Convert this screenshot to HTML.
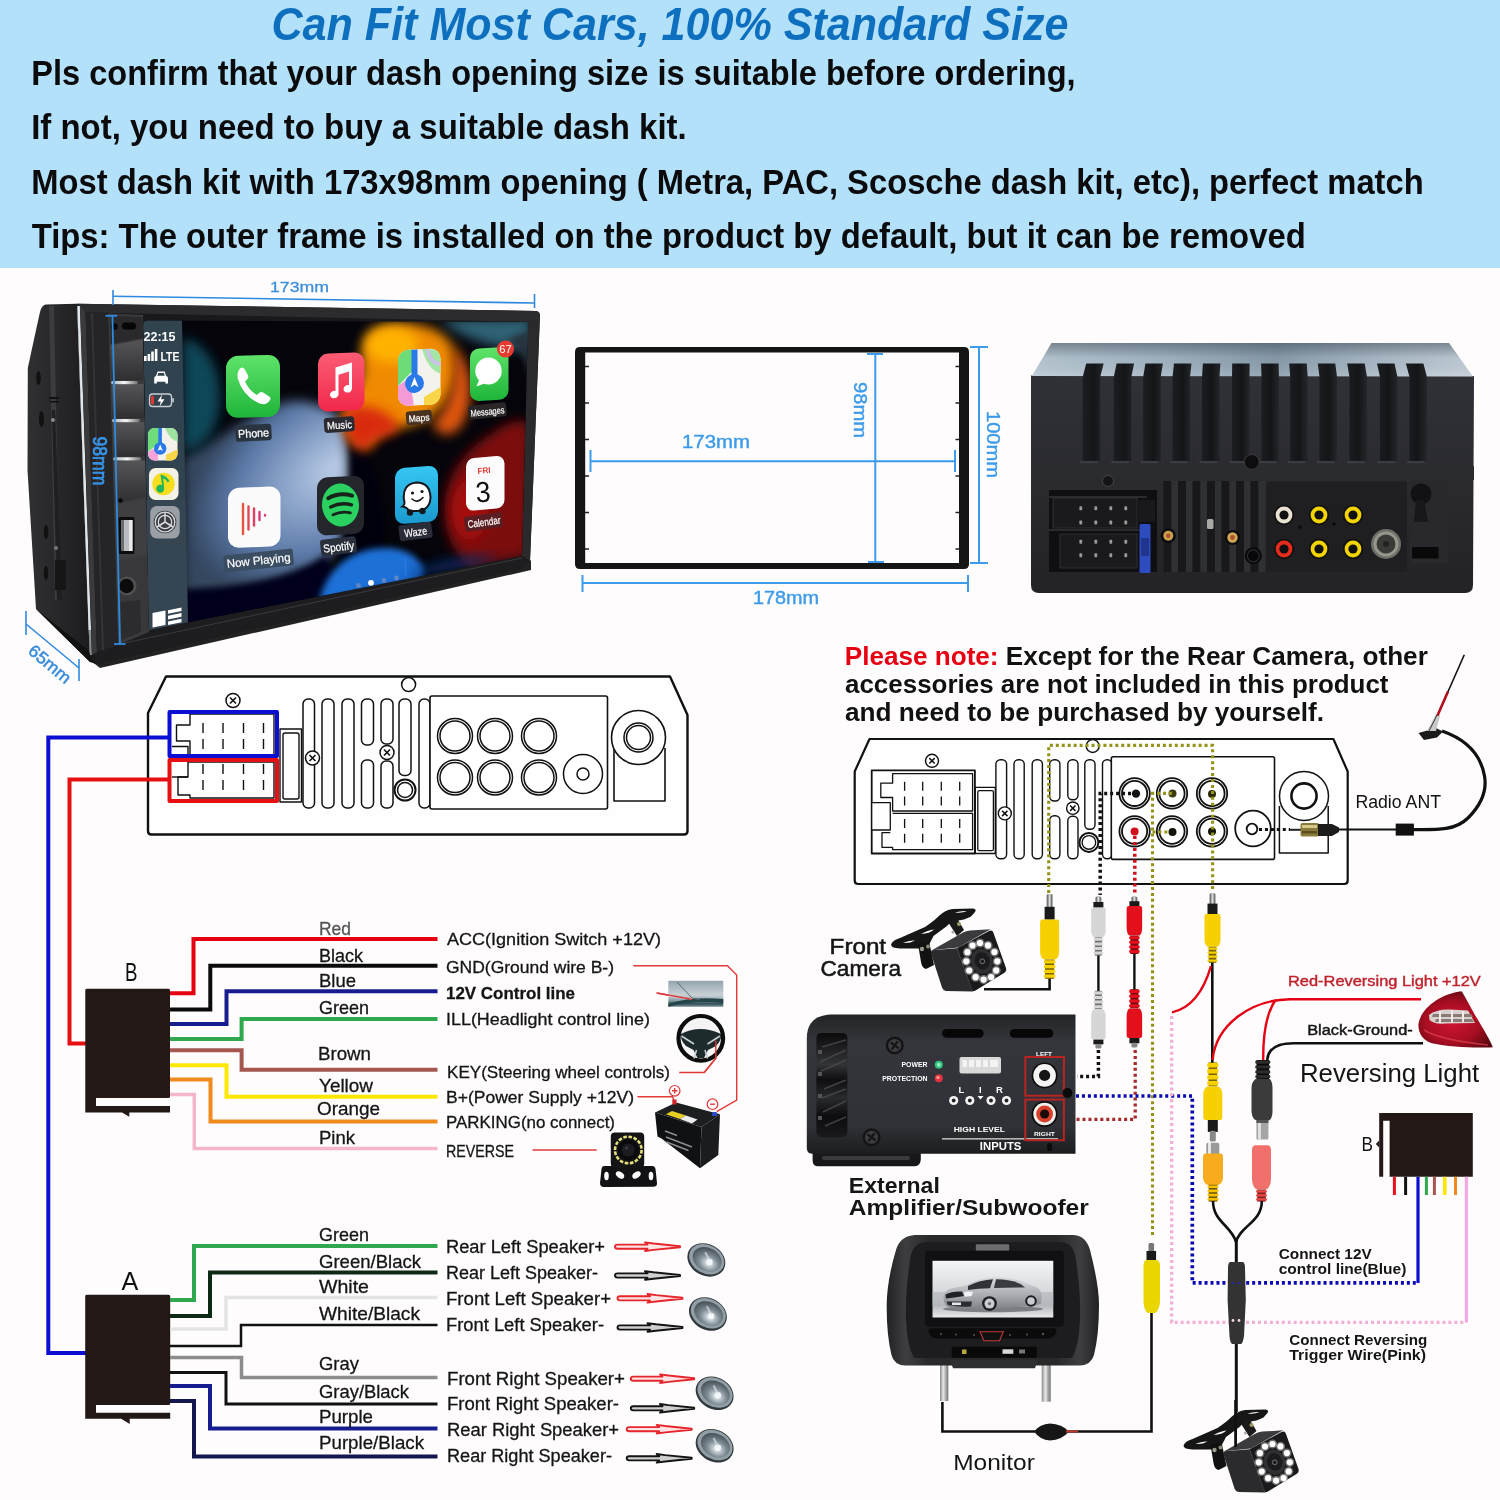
<!DOCTYPE html>
<html><head><meta charset="utf-8">
<style>
html,body{margin:0;padding:0;background:#fefcfd;}
body{width:1500px;height:1500px;overflow:hidden;font-family:"Liberation Sans",sans-serif;}
svg{display:block;position:absolute;left:0;top:0;will-change:transform;}
text{font-family:"Liberation Sans",sans-serif;}
.b{font-weight:bold;}
</style></head>
<body>
<svg width="1500" height="1500" viewBox="0 0 1500 1500">
<defs>
</defs>
<rect x="0" y="0" width="1500" height="1500" fill="#fefcfd"/>
<!-- HEADER -->
<g id="header">
<rect x="0" y="0" width="1500" height="268" fill="#b3e1f9"/>
<text x="271.5" y="40" font-size="46" font-weight="bold" font-style="italic" fill="#0d6fbe" textLength="797" lengthAdjust="spacingAndGlyphs">Can Fit Most Cars, 100% Standard Size</text>
<g font-size="34.6" font-weight="bold" fill="#0b0b0d">
<text x="31.2" y="85" textLength="1044.5" lengthAdjust="spacingAndGlyphs">Pls confirm that your dash opening size is suitable before ordering,</text>
<text x="31.2" y="139.4" textLength="655.5" lengthAdjust="spacingAndGlyphs">If not, you need to buy a suitable dash kit.</text>
<text x="31.2" y="193.9" textLength="1392.5" lengthAdjust="spacingAndGlyphs">Most dash kit with 173x98mm opening ( Metra, PAC, Scosche dash kit, etc), perfect match</text>
<text x="31.7" y="248.3" textLength="1274" lengthAdjust="spacingAndGlyphs">Tips: The outer frame is installed on the product by default, but it can be removed</text>
</g>
</g>
<g id="stereo">
<defs>
<clipPath id="scr"><path d="M148,320.6 L528,322 L522,556 L149,630 L143,326 Q143,320.6 148,320.6 Z"/></clipPath>
<filter id="bl6" x="-30%" y="-30%" width="160%" height="160%"><feGaussianBlur stdDeviation="6"/></filter>
<filter id="bl3" x="-30%" y="-30%" width="160%" height="160%"><feGaussianBlur stdDeviation="3"/></filter>
<filter id="bl10" x="-30%" y="-30%" width="160%" height="160%"><feGaussianBlur stdDeviation="10"/></filter>
<filter id="bl1" x="-10%" y="-10%" width="120%" height="120%"><feGaussianBlur stdDeviation="0.7"/></filter>
<linearGradient id="sideG" x1="0" y1="0" x2="1" y2="0"><stop offset="0" stop-color="#303032"/><stop offset="0.6" stop-color="#252527"/><stop offset="1" stop-color="#1b1b1d"/></linearGradient>
<linearGradient id="btnG" x1="0" y1="0" x2="0" y2="1"><stop offset="0" stop-color="#555557"/><stop offset="1" stop-color="#2f2f31"/></linearGradient>
<linearGradient id="silv" x1="0" y1="0" x2="1" y2="0"><stop offset="0" stop-color="#9fb0bd"/><stop offset="0.5" stop-color="#f4f4f4"/><stop offset="1" stop-color="#6c6c6c"/></linearGradient>
<linearGradient id="grn" x1="0" y1="0" x2="0" y2="1"><stop offset="0" stop-color="#5fe36a"/><stop offset="1" stop-color="#1fb53a"/></linearGradient>
<linearGradient id="mus" x1="0" y1="0" x2="0" y2="1"><stop offset="0" stop-color="#fb5c74"/><stop offset="1" stop-color="#f2284a"/></linearGradient>
<linearGradient id="wzg" x1="0" y1="0" x2="0" y2="1"><stop offset="0" stop-color="#35c6f2"/><stop offset="1" stop-color="#1b9ad0"/></linearGradient>
<radialGradient id="lightL" gradientUnits="userSpaceOnUse" cx="335" cy="468" r="165" gradientTransform="rotate(-35 335 468) scale(1 0.62) translate(0 287)"><stop offset="0" stop-color="#bccde7"/><stop offset="0.35" stop-color="#8aa3c9"/><stop offset="0.7" stop-color="#5a78a6"/><stop offset="1" stop-color="#34465f"/></radialGradient>
</defs>
<!-- shadow under -->
<path d="M90,660 L523,566 L531,560 L531,570 L100,668 Z" fill="#222" filter="url(#bl1)"/>
<!-- left side face -->
<path d="M46,304.5 L77,303.8 L90,662 L36,609 L27.5,470 L27.8,368 Q36,330 40,312 Q42,304.5 46,304.5 Z" fill="url(#sideG)"/>
<path d="M36,609 L90,662 L96,664 L88,650 Z" fill="#111"/><path d="M49,306 L54,306 L60,600 L55,600 Z" fill="#454547" opacity="0.7"/>
<!-- side details -->
<ellipse cx="38.5" cy="378" rx="2.3" ry="7" fill="#111"/><ellipse cx="41.5" cy="419" rx="2.5" ry="8" fill="#111"/>
<ellipse cx="46" cy="532" rx="2.3" ry="7" fill="#111"/><ellipse cx="46" cy="573" rx="2.3" ry="7" fill="#111"/>
<path d="M49,397 h10 v2 h-10z M50,401 h9 v1.5 h-9z" fill="#111"/>
<path d="M52,410 L55,410 L62,600 L57,600 Z" fill="#1f1f21"/>
<circle cx="53" cy="420" r="2" fill="#888"/><circle cx="56" cy="548" r="2" fill="#777"/>
<rect x="55" y="560" width="11" height="30" fill="#161617"/>
<!-- front face -->
<path d="M77,303.8 L536,311 Q540,311.5 540,316 L530,561 L523,568 L96,664 L90,660 Z" fill="#19191b"/>
<path d="M77,303.8 L536,311 Q540,311.5 540,316 L539.6,322 L86,312.5 Z" fill="#2c2c2f"/>
<path d="M528,322 L539.6,322 L530,561 L522,556 Z" fill="#2a2a2c"/>
<path d="M149,630 L522,556 L530,561 L523,568 L96,664 L92,652 Z" fill="#1d1d1f"/>
<path d="M92,650 L522,558" stroke="#3a3a3c" stroke-width="1" fill="none"/>
<!-- silver edge -->
<path d="M77.3,306 L79.9,306 L91,630 L88.6,630 Z" fill="#dfe5ea"/><path d="M88.6,630 L91,630 L91.8,655 L90,655 Z" fill="#8a8f94"/>
<path d="M80,306 L85.5,312 L97,652 L92,655 Z" fill="#3a3a3d"/>
<path d="M85.5,312.5 L108,313.5 L118,645 L97,652 Z" fill="#252528"/>
<path d="M91,313 L93,313 L104,650 L102,650 Z" fill="#343438"/>
<!-- button column -->
<path d="M108,313.5 L143,315 L149,632 L118,645 Z" fill="#3a3a3d"/>
<path d="M110,316 L142.5,317 L142.8,338 L110.5,344 Z" fill="#2a2a2c"/>
<circle cx="114.5" cy="326.5" r="3.2" fill="#060606"/><rect x="122" y="322.5" width="14" height="7" rx="3.5" fill="#060606"/>
<path d="M110.6,345.5 L142.8,339.5 L143.5,380 L111.5,380.5 Z" fill="url(#btnG)"/>
<path d="M111.6,385 L143.6,384 L144.2,418 L112.6,418.5 Z" fill="url(#btnG)"/>
<path d="M112.7,423 L144.3,422 L145,456.5 L113.8,457 Z" fill="url(#btnG)"/>
<path d="M113.9,461.5 L145,460.5 L145.6,497 L115,503 Z" fill="url(#btnG)"/>
<path d="M115,505 L145.7,499 L146.5,555 L116.5,560 Z" fill="#3f3f42"/>
<path d="M116.5,562 L146.6,557 L148,628 L118.5,642 Z" fill="#38383b"/>
<rect x="111" y="381" width="27" height="3.2" rx="1.6" fill="url(#silv)"/>
<rect x="112" y="419" width="28" height="3.2" rx="1.6" fill="url(#silv)"/>
<rect x="113.2" y="457.3" width="28" height="3.2" rx="1.6" fill="url(#silv)"/>
<circle cx="120.5" cy="500.5" r="2.2" fill="#060606"/>
<!-- usb -->
<rect x="118.5" y="517" width="16" height="37" rx="1.5" fill="#0c0c0d"/>
<rect x="121" y="520" width="11.5" height="31" fill="#b9bcc0"/><rect x="121" y="520" width="3" height="31" fill="#6a6d70"/><rect x="129" y="520" width="3.5" height="31" fill="#e8e8e8"/>
<!-- aux -->
<circle cx="127" cy="586" r="9.5" fill="#505053"/><circle cx="126.5" cy="586" r="7.2" fill="#0b0b0c"/>
<path d="M120.5,602 L140,600 L141,632 L121.5,640 Z" fill="#2c2c2e"/>
<!-- SCREEN -->
<g clip-path="url(#scr)">
<rect x="140" y="315" width="395" height="320" fill="#04040a"/>
<!-- light region left -->
<path d="M183,458 C210,445 240,420 285,402 C310,398 335,408 345,428 C352,470 350,520 338,550 C300,582 240,594 183,594 Z" fill="url(#lightL)" filter="url(#bl6)"/>
<path d="M183,338 C205,342 220,365 220,398 C220,430 205,448 183,452 Z" fill="#0d4658" filter="url(#bl6)"/>
<path d="M350,430 C380,470 392,520 380,575 C370,590 345,580 338,560 C350,520 352,470 350,430 Z" fill="#05050f" filter="url(#bl3)"/>
<path d="M183,590 C240,588 295,578 325,556 L345,595 L183,632 Z" fill="#06061e" filter="url(#bl3)"/>
<!-- orange -->
<path d="M372,330 C395,318 440,322 452,345 C462,375 452,405 425,420 C400,432 380,425 372,445 C360,452 345,440 343,420 C343,395 362,390 362,370 C360,350 362,338 372,330 Z" fill="#f08a06" filter="url(#bl6)"/>
<ellipse cx="392" cy="345" rx="26" ry="18" fill="#ffb200" filter="url(#bl6)"/>
<path d="M345,410 C360,400 392,410 400,428 C385,440 372,436 368,450 C352,452 342,432 345,410 Z" fill="#d92c10" filter="url(#bl6)"/>
<path d="M452,345 C470,360 478,395 462,425 C450,440 440,435 432,425 C452,405 458,375 452,345 Z" fill="#e0560c" filter="url(#bl6)"/>
<!-- dark red -->
<path d="M445,500 C450,460 480,440 505,425 C520,418 530,420 530,430 L530,556 L470,568 C450,550 442,525 445,500 Z" fill="#7c0b0b" filter="url(#bl6)"/>
<ellipse cx="470" cy="510" rx="18" ry="30" fill="#a50f0f" filter="url(#bl6)"/>
<!-- teal tr -->
<path d="M440,318 L532,318 L532,350 C500,350 460,340 440,318 Z" fill="#2f6275" filter="url(#bl6)"/>
<path d="M505,340 C520,345 530,360 530,400 L530,330 Z" fill="#25333d" filter="url(#bl3)"/>
<!-- blue bottom -->
<path d="M318,606 C325,570 350,548 385,548 C405,548 418,556 425,570 L420,580 L320,602 Z" fill="#1b6fd6" filter="url(#bl3)"/>
<path d="M405,578 C430,560 470,555 500,556 L470,566 Z" fill="#0b2a66" filter="url(#bl6)"/>
<line x1="405.5" y1="558" x2="405.5" y2="575" stroke="#2a7fe0" stroke-width="1.4"/>
<circle cx="358.5" cy="585.5" r="2.4" fill="#5c86c8"/><circle cx="371" cy="582.8" r="2.9" fill="#fff"/><circle cx="384" cy="580.5" r="2.4" fill="#5c86c8"/><circle cx="396.5" cy="578" r="2.4" fill="#5c86c8"/>
<!-- sidebar -->
<path d="M143,318 L182,318 L188,630 L149,632 Z" fill="#30434f"/>
<path d="M143,500 L185.2,500 L188,630 L149,632 Z" fill="#364552"/>
<!--ICONS-BEGIN--><!-- sidebar content -->
<text x="143.5" y="341" font-size="13.2" font-weight="bold" fill="#fff" textLength="32" lengthAdjust="spacingAndGlyphs">22:15</text>
<path d="M144,356 h2.6 v5 h-2.6z M147.6,354 h2.6 v7 h-2.6z M151.2,351.5 h2.6 v9.5 h-2.6z M154.8,349 h2.6 v12 h-2.6z" fill="#fff"/>
<text x="160.5" y="360.8" font-size="13.5" font-weight="bold" fill="#fff" textLength="19" lengthAdjust="spacingAndGlyphs">LTE</text>
<path d="M156,376 l1.6,-4.5 h7 l1.6,4.5 q1.8,0.5 1.8,2.2 v5.3 h-2.6 v-1.8 h-8.6 v1.8 h-2.6 v-5.3 q0,-1.7 1.8,-2.2z M158.3,373 l-0.9,2.8 h7.4 l-0.9,-2.8z" fill="#fff" fill-rule="evenodd"/>
<rect x="149.5" y="394" width="22" height="12.5" rx="3" fill="none" stroke="#c9ced2" stroke-width="1.3"/><rect x="172.3" y="398" width="1.6" height="4.5" rx="0.8" fill="#c9ced2"/>
<rect x="151" y="396" width="3" height="8.5" rx="1" fill="#e5372c"/>
<path d="M162,394.5 l-4.5,7 h3.3 l-1.3,5 l5,-7.2 h-3.4z" fill="#fff"/>
<!-- maps small -->
<g><rect x="148" y="428" width="29.5" height="32.5" rx="6.5" fill="#f3f1ea"/>
<clipPath id="mpS"><rect x="148" y="428" width="29.5" height="32.5" rx="6.5"/></clipPath>
<g clip-path="url(#mpS)"><path d="M148,428 h12 v14 l-12,10z" fill="#6fdc7a"/><path d="M165,428 h13 v14 q-8,-2 -13,-14z" fill="#9fe3a0"/><path d="M148,452 l10,-6 v15 h-10z" fill="#f5a3d8"/><path d="M166,455 l12,-6 v12 h-12z" fill="#f8d648"/><rect x="158.3" y="428" width="3.6" height="16" fill="#2a79e8"/><circle cx="160.2" cy="448.5" r="6.2" fill="#2a79e8"/><path d="M160.2,444.5 l2.6,6.5 l-2.6,-1.6 l-2.6,1.6z" fill="#fff"/></g></g>
<!-- qq music -->
<rect x="149" y="468" width="29.5" height="32" rx="6.5" fill="#f4f1e6"/><circle cx="163.5" cy="484" r="11.2" fill="#f6dd1e"/><path d="M160.5,474.5 q7,1.5 9,7 l-2,0.8 q-1.5,-3 -4.3,-4 l1,10 a4,4 0 1 1 -2.2,-3.2z" fill="#21b55b"/>
<!-- settings -->
<rect x="150.2" y="506" width="29.5" height="32.5" rx="6.5" fill="#9a9ea5"/><circle cx="165" cy="522" r="11.3" fill="#3b3d42"/><circle cx="165" cy="522" r="9.8" fill="none" stroke="#d9dbde" stroke-width="1.3"/><circle cx="165" cy="522" r="6.7" fill="none" stroke="#d9dbde" stroke-width="1.3"/><path d="M165,522 V512.5 M165,522 L173,527 M165,522 L157,527" stroke="#d9dbde" stroke-width="1.5" fill="none"/>
<!-- grid -->
<path d="M152.5,613 l13,-2.6 v14.6 l-13,2.6z M168,610.2 l13.5,-2.7 v3.6 l-13.5,2.7z M168,615.8 l13.5,-2.7 v3.6 l-13.5,2.7z M168,621.4 l13.5,-2.7 v3.6 l-13.5,2.7z" fill="#fff"/>
<!-- Phone -->
<rect x="226" y="355.5" width="54" height="62" rx="12" fill="url(#grn)" transform="skewY(-1.5) translate(0,6.5)"/>
<path d="M239.5,369 q2.5,-3 5,0 l3.5,6.5 q1,2 -1,4 l-2,2 q4,9 12,13.5 l2.3,-2.2 q1.8,-1.6 3.8,-0.4 l6.2,4 q2.5,2 0,4.5 q-3.5,4.5 -9,2.8 q-17,-7 -22.5,-25 q-1.2,-5.5 1.7,-9.7z" fill="#fff"/>
<rect x="235.5" y="424.5" width="36" height="16.5" rx="3" fill="#2a3440" transform="rotate(-3 253 432)"/>
<text x="238" y="437.3" font-size="11.5" fill="#fff" textLength="31" lengthAdjust="spacingAndGlyphs" transform="rotate(-3 253 432)" stroke="#fff" stroke-width="0.25">Phone</text>
<!-- Music -->
<rect x="318" y="353" width="46.5" height="58" rx="10" fill="url(#mus)" transform="skewY(-2) translate(0,12)"/>
<path d="M335.5,367.5 l16.5,-5 v26 a4.3,3.7 -15 1 1 -3,-3.3 v-13.7 l-10.5,3.2 v19.5 a4.3,3.7 -15 1 1 -3,-3.3z" fill="#fff"/>
<rect x="324" y="417" width="30.5" height="15" rx="3" fill="#2c2a30" transform="rotate(-4 340 424)"/>
<text x="327" y="428.7" font-size="10.5" fill="#fff" textLength="25" lengthAdjust="spacingAndGlyphs" transform="rotate(-4 340 424)" stroke="#fff" stroke-width="0.2">Music</text>
<!-- Maps -->
<g transform="skewY(-2.5) translate(0,17.5)"><rect x="398" y="350" width="42.5" height="56" rx="10" fill="#f4f2ec"/>
<clipPath id="mpB"><rect x="398" y="350" width="42.5" height="56" rx="10"/></clipPath>
<g clip-path="url(#mpB)"><path d="M398,350 h14 v22 l-14,14z" fill="#6ddb78"/><path d="M422,350 h20 v26 q-14,-4 -20,-26z" fill="#a4e6a6"/><path d="M426,350 a16,18 0 0 0 15,18 v-4 a12,14 0 0 1 -11,-14z" fill="#c9c3e6"/><path d="M398,386 l12,-8 l4,30 h-16z" fill="#f49ad6"/><path d="M424,398 l18,-10 v20 h-18z" fill="#f8d648"/><rect x="411.5" y="350" width="6" height="26" fill="#2a79e8"/><circle cx="414.5" cy="384" r="9.5" fill="#2a79e8"/><path d="M414.5,377.5 l4,10.5 l-4,-2.6 l-4,2.6z" fill="#fff"/></g></g>
<rect x="406" y="410.5" width="26" height="14" rx="3" fill="#4a3220" transform="rotate(-5 419 417)"/>
<text x="408.5" y="421.3" font-size="9.5" fill="#fff" textLength="21" lengthAdjust="spacingAndGlyphs" transform="rotate(-5 419 417)" stroke="#fff" stroke-width="0.2">Maps</text>
<!-- Messages -->
<rect x="470" y="348" width="38.5" height="52.5" rx="9" fill="url(#grn)" transform="skewY(-3) translate(0,25.5)"/>
<ellipse cx="488.5" cy="371" rx="13.2" ry="13.5" fill="#fff"/><path d="M479,380 l-2.5,6.5 l8,-3z" fill="#fff"/>
<circle cx="505.5" cy="349" r="8.6" fill="#e53a30"/><text x="499.3" y="353.4" font-size="11.5" fill="#fff" textLength="12.5" lengthAdjust="spacingAndGlyphs">67</text>
<rect x="468.5" y="404" width="38" height="14" rx="3" fill="#2a2628" transform="rotate(-6 487 411)"/>
<text x="470.5" y="415" font-size="9.5" fill="#fff" textLength="34" lengthAdjust="spacingAndGlyphs" transform="rotate(-6 487 411)" stroke="#fff" stroke-width="0.2">Messages</text>
<!-- Now Playing -->
<rect x="228" y="488" width="52.5" height="60" rx="11" fill="#fbfbfb" transform="skewY(-2) translate(0,8)"/>
<g stroke-linecap="round" fill="none"><path d="M243,504 v30" stroke="#e5563f" stroke-width="2.4"/><path d="M248.5,506.5 v23" stroke="#e14a55" stroke-width="2.4"/><path d="M254,508.5 v17" stroke="#dd4266" stroke-width="2.4"/><path d="M259.5,512 v8" stroke="#d93a78" stroke-width="2.4"/><path d="M265,515 v0.5" stroke="#d93a78" stroke-width="2.4"/></g>
<rect x="223.5" y="552" width="70" height="17" rx="3" fill="#3b4d62" transform="rotate(-6 258 560)"/>
<text x="226.5" y="564.5" font-size="11.5" fill="#fff" textLength="64" lengthAdjust="spacingAndGlyphs" transform="rotate(-6 258 560)" stroke="#fff" stroke-width="0.2">Now Playing</text>
<!-- Spotify -->
<rect x="317" y="477" width="47" height="58" rx="10" fill="#23262b" transform="skewY(-3) translate(0,17.5)"/>
<ellipse cx="340.5" cy="505" rx="18.5" ry="21.5" fill="#2bd160" transform="rotate(-4 340 505)"/>
<g stroke="#17231b" fill="none" stroke-linecap="round" transform="rotate(-6 340 505)"><path d="M329,497 q12,-5 24,0" stroke-width="4"/><path d="M330.5,506 q10.5,-4 21,0" stroke-width="3.4"/><path d="M332,514 q9,-3.2 17.5,0" stroke-width="2.8"/></g>
<rect x="320.5" y="538" width="36" height="16.5" rx="3" fill="#2a2f3c" transform="rotate(-7 338 546)"/>
<text x="323" y="551" font-size="11.5" fill="#fff" textLength="31" lengthAdjust="spacingAndGlyphs" transform="rotate(-7 338 546)" stroke="#fff" stroke-width="0.2">Spotify</text>
<!-- Waze -->
<rect x="395" y="467" width="43" height="56" rx="9.5" fill="url(#wzg)" transform="skewY(-4) translate(0,29)"/>
<path d="M404,500 q-2,-16 12.5,-17.5 q13.5,0 14,15 q-0.5,12.5 -13,13.5 h-8.5 q-2,-4 -6.5,-4.5 q3,-2 1.5,-6.5z" fill="#fff" stroke="#14181d" stroke-width="2"/>
<circle cx="412.5" cy="493" r="1.6" fill="#14181d"/><circle cx="422" cy="491.5" r="1.6" fill="#14181d"/><path d="M412,499 q5.5,5 11,-1.5" stroke="#14181d" stroke-width="1.6" fill="none" stroke-linecap="round"/>
<circle cx="410" cy="512.5" r="3.2" fill="#14181d"/><circle cx="422.5" cy="511" r="3.2" fill="#14181d"/>
<rect x="399" y="523.5" width="33" height="16" rx="3" fill="#2a2d38" transform="rotate(-7 415 531)"/>
<text x="404" y="536" font-size="11" fill="#fff" textLength="23" lengthAdjust="spacingAndGlyphs" transform="rotate(-7 415 531)" stroke="#fff" stroke-width="0.2">Waze</text>
<!-- Calendar -->
<rect x="466" y="459" width="38.5" height="52.5" rx="8" fill="#fcfcfc" transform="skewY(-5) translate(0,40.5)"/>
<text x="477.5" y="473.5" font-size="8.5" font-weight="bold" fill="#e2382f" textLength="13" lengthAdjust="spacingAndGlyphs" transform="rotate(-5 484 470)">FRI</text>
<text x="475.5" y="502" font-size="29" fill="#111" textLength="15" lengthAdjust="spacingAndGlyphs" transform="rotate(-4 484 490)">3</text>
<rect x="464.5" y="514.5" width="38" height="15" rx="2" fill="#5a1e22" transform="rotate(-8 483 522)"/>
<text x="467.5" y="526" font-size="10.5" fill="#fff" textLength="33" lengthAdjust="spacingAndGlyphs" transform="rotate(-8 483 522)" stroke="#fff" stroke-width="0.2">Calendar</text>
<!--ICONS-END-->
</g>
<!-- dimensions -->
<g stroke="#2e8ae0" fill="none" stroke-width="1.6">
<path d="M113,296.3 L534.5,303"/><path d="M113,290 V305"/><path d="M534.5,294 V308"/>
<path d="M112.4,316 L120,644" stroke-width="1.8"/><path d="M105.5,315.8 H117" stroke-width="1.8"/><path d="M114,644 H125.5" stroke-width="1.8"/>
<path d="M26,624 L79,668"/><path d="M26,611 V635"/><path d="M79,659 V681"/>
</g>
<text x="270" y="292" font-size="15.5" fill="#3b8edb" textLength="59" lengthAdjust="spacingAndGlyphs" stroke="#3b8edb" stroke-width="0.3">173mm</text>
<text transform="translate(93,436.5) rotate(90)" font-size="19.5" fill="#2f8be0" stroke="#3d9cf0" stroke-width="0.7" textLength="49" lengthAdjust="spacingAndGlyphs">98mm</text>
<text transform="translate(27,652.5) rotate(40)" font-size="17" fill="#3b8edb" stroke="#3b8edb" stroke-width="0.5" textLength="50" lengthAdjust="spacingAndGlyphs">65mm</text>
</g>

<g id="frame">
<path d="M580,347 H964 Q969,347 969,352 V564 Q969,569 964,569 H580 Q575,569 575,564 V352 Q575,347 580,347 Z M585.2,352.6 V563 H959 V352.6 Z" fill="#151515" fill-rule="evenodd"/>
<g stroke="#222" stroke-width="1.5"><path d="M585,366.5 h4 M585,403 h4 M585,439.5 h4 M585,476 h4 M585,512.5 h4 M585,549 h4 M959.5,366.5 h-4 M959.5,403 h-4 M959.5,439.5 h-4 M959.5,476 h-4 M959.5,512.5 h-4 M959.5,549 h-4"/></g>
<g stroke="#3c9bea" stroke-width="2" fill="none">
<path d="M590,461.3 H955 M590.5,450 V472 M955,450 V472"/>
<path d="M875.3,354 V562 M867,354 H883 M868,562 H884"/>
<path d="M979,347 V563 M970,347 H988 M970,563 H988"/>
<path d="M582,583 H968 M582.5,575 V592 M968,575 V592"/>
</g>
<g fill="#3c9bea" stroke="#3c9bea" stroke-width="0.4">
<text x="682" y="447.6" font-size="17.5" textLength="68" lengthAdjust="spacingAndGlyphs">173mm</text>
<text x="753" y="604" font-size="17.5" textLength="66" lengthAdjust="spacingAndGlyphs">178mm</text>
<text transform="translate(853.5,382) rotate(90)" font-size="17.5" textLength="56" lengthAdjust="spacingAndGlyphs">98mm</text>
<text transform="translate(986.5,411) rotate(90)" font-size="17.5" textLength="67" lengthAdjust="spacingAndGlyphs">100mm</text>
</g>
</g>

<g id="back">
<defs>
<linearGradient id="topF" x1="0" y1="0" x2="1" y2="0"><stop offset="0" stop-color="#b9c9d5"/><stop offset="0.3" stop-color="#a3b5c3"/><stop offset="0.55" stop-color="#8a9dac"/><stop offset="0.8" stop-color="#aebdca"/><stop offset="1" stop-color="#c3ced8"/></linearGradient><linearGradient id="topF2" x1="0" y1="0" x2="0" y2="1"><stop offset="0" stop-color="#2a3640" stop-opacity="0.45"/><stop offset="0.45" stop-color="#2a3640" stop-opacity="0.05"/><stop offset="1" stop-color="#fff" stop-opacity="0.12"/></linearGradient>
<linearGradient id="slotG" x1="0" y1="0" x2="1" y2="0"><stop offset="0" stop-color="#1c1d21"/><stop offset="0.55" stop-color="#141518"/><stop offset="1" stop-color="#25262a"/></linearGradient>
<linearGradient id="bodyG" x1="0" y1="0" x2="0" y2="1"><stop offset="0" stop-color="#303136"/><stop offset="1" stop-color="#232327"/></linearGradient>
<filter id="nz" x="0" y="0" width="100%" height="100%"><feTurbulence type="fractalNoise" baseFrequency="0.9" numOctaves="2" seed="3" result="n"/><feColorMatrix in="n" type="matrix" values="0 0 0 0 0.5  0 0 0 0 0.55  0 0 0 0 0.6  0.6 0.6 0 0 -0.35"/><feComposite operator="in" in2="SourceGraphic"/></filter>
</defs>
<path d="M1031,375.5 L1474,376 L1473,585 Q1473,593 1465,593 L1039,593 Q1031,593 1031,585 Z" fill="url(#bodyG)"/>
<path d="M1051.5,343 L1449,343 L1473,376.5 L1032,376 Z" fill="url(#topF)"/><path d="M1051.5,343 L1449,343 L1473,376.5 L1032,376 Z" fill="url(#topF2)"/>

<path d="M1086.2,363.5 L1103.7,363.5 L1100.2,377 L1100.2,461 L1082.7,461 L1082.7,377 Z" fill="url(#slotG)"/>
<path d="M1080.2,461 h17.5 v2.2 h-17.5z" fill="#3c3d42"/>
<path d="M1116.6,363.5 L1134.1,363.5 L1131.3,377 L1131.3,461 L1113.8,461 L1113.8,377 Z" fill="url(#slotG)"/>
<path d="M1111.3,461 h17.5 v2.2 h-17.5z" fill="#3c3d42"/>
<path d="M1145.4,363.5 L1162.9,363.5 L1160.7,377 L1160.7,461 L1143.2,461 L1143.2,377 Z" fill="url(#slotG)"/>
<path d="M1140.7,461 h17.5 v2.2 h-17.5z" fill="#3c3d42"/>
<path d="M1174.0,363.5 L1191.5,363.5 L1190.0,377 L1190.0,461 L1172.5,461 L1172.5,377 Z" fill="url(#slotG)"/>
<path d="M1170,461 h17.5 v2.2 h-17.5z" fill="#3c3d42"/>
<path d="M1202.9,363.5 L1220.4,363.5 L1219.5,377 L1219.5,461 L1202.0,461 L1202.0,377 Z" fill="url(#slotG)"/>
<path d="M1199.5,461 h17.5 v2.2 h-17.5z" fill="#3c3d42"/>
<path d="M1232.2,363.5 L1249.7,363.5 L1249.5,377 L1249.5,461 L1232.0,461 L1232.0,377 Z" fill="url(#slotG)"/>
<path d="M1229.5,461 h17.5 v2.2 h-17.5z" fill="#3c3d42"/>
<path d="M1261.1,363.5 L1278.6,363.5 L1279.0,377 L1279.0,461 L1261.5,461 L1261.5,377 Z" fill="url(#slotG)"/>
<path d="M1259,461 h17.5 v2.2 h-17.5z" fill="#3c3d42"/>
<path d="M1289.2,363.5 L1306.7,363.5 L1307.7,377 L1307.7,461 L1290.2,461 L1290.2,377 Z" fill="url(#slotG)"/>
<path d="M1287.7,461 h17.5 v2.2 h-17.5z" fill="#3c3d42"/>
<path d="M1317.8,363.5 L1335.3,363.5 L1337.0,377 L1337.0,461 L1319.5,461 L1319.5,377 Z" fill="url(#slotG)"/>
<path d="M1317,461 h17.5 v2.2 h-17.5z" fill="#3c3d42"/>
<path d="M1347.2,363.5 L1364.7,363.5 L1367.0,377 L1367.0,461 L1349.5,461 L1349.5,377 Z" fill="url(#slotG)"/>
<path d="M1347,461 h17.5 v2.2 h-17.5z" fill="#3c3d42"/>
<path d="M1377.0,363.5 L1394.5,363.5 L1397.5,377 L1397.5,461 L1380.0,461 L1380.0,377 Z" fill="url(#slotG)"/>
<path d="M1377.5,461 h17.5 v2.2 h-17.5z" fill="#3c3d42"/>
<path d="M1405.9,363.5 L1423.4,363.5 L1427.0,377 L1427.0,461 L1409.5,461 L1409.5,377 Z" fill="url(#slotG)"/>
<path d="M1407,461 h17.5 v2.2 h-17.5z" fill="#3c3d42"/>
<rect x="1031" y="466" width="443" height="14" fill="#2b2c30"/>
<circle cx="1251.7" cy="462" r="7.5" fill="#0d0d0f"/><circle cx="1251.7" cy="462" r="7.5" fill="none" stroke="#3a3a3f" stroke-width="1"/>
<circle cx="1108" cy="481" r="5.5" fill="#141416"/><circle cx="1108" cy="481" r="5.5" fill="none" stroke="#44454a" stroke-width="1"/>
<rect x="1049" y="490" width="108" height="82" fill="#0f0f11"/>
<path d="M1053,498 h84 v30 h-84z M1060,534 h77 v34 h-77z" fill="#1a1a1d" stroke="#2c2c30" stroke-width="1.2"/>
<path d="M1049,497 h98 M1049,530 h90" stroke="#34343a" stroke-width="1.5"/>
<rect x="1079.3999999999999" y="506.3" width="2.8" height="4" rx="0.8" fill="#9a9a98"/><rect x="1094.3999999999999" y="506.3" width="2.8" height="4" rx="0.8" fill="#9a9a98"/><rect x="1109.3999999999999" y="506.3" width="2.8" height="4" rx="0.8" fill="#9a9a98"/><rect x="1124.3999999999999" y="506.3" width="2.8" height="4" rx="0.8" fill="#9a9a98"/><rect x="1079.3999999999999" y="520.5" width="2.8" height="4" rx="0.8" fill="#9a9a98"/><rect x="1094.3999999999999" y="520.5" width="2.8" height="4" rx="0.8" fill="#9a9a98"/><rect x="1109.3999999999999" y="520.5" width="2.8" height="4" rx="0.8" fill="#9a9a98"/><rect x="1124.3999999999999" y="520.5" width="2.8" height="4" rx="0.8" fill="#9a9a98"/><rect x="1079.3999999999999" y="539.7" width="2.8" height="4" rx="0.8" fill="#9a9a98"/><rect x="1094.3999999999999" y="539.7" width="2.8" height="4" rx="0.8" fill="#9a9a98"/><rect x="1109.3999999999999" y="539.7" width="2.8" height="4" rx="0.8" fill="#9a9a98"/><rect x="1124.3999999999999" y="539.7" width="2.8" height="4" rx="0.8" fill="#9a9a98"/><rect x="1079.3999999999999" y="553.3" width="2.8" height="4" rx="0.8" fill="#9a9a98"/><rect x="1094.3999999999999" y="553.3" width="2.8" height="4" rx="0.8" fill="#9a9a98"/><rect x="1109.3999999999999" y="553.3" width="2.8" height="4" rx="0.8" fill="#9a9a98"/><rect x="1124.3999999999999" y="553.3" width="2.8" height="4" rx="0.8" fill="#9a9a98"/>
<rect x="1139.5" y="524" width="11" height="49" rx="1.5" fill="#2c4cc0"/><rect x="1141" y="538" width="8" height="18" fill="#1f3590"/>
<rect x="1137" y="500" width="18" height="22" fill="#19191c"/>
<rect x="1163.5" y="481" width="8" height="91" fill="#18181b"/>
<rect x="1171.5" y="481" width="6.5" height="91" fill="#2f3034"/>
<rect x="1178.0" y="481" width="8" height="91" fill="#18181b"/>
<rect x="1186.0" y="481" width="6.5" height="91" fill="#2f3034"/>
<rect x="1192.5" y="481" width="8" height="91" fill="#18181b"/>
<rect x="1200.5" y="481" width="6.5" height="91" fill="#2f3034"/>
<rect x="1207.0" y="481" width="8" height="91" fill="#18181b"/>
<rect x="1215.0" y="481" width="6.5" height="91" fill="#2f3034"/>
<rect x="1221.5" y="481" width="8" height="91" fill="#18181b"/>
<rect x="1229.5" y="481" width="6.5" height="91" fill="#2f3034"/>
<rect x="1236.0" y="481" width="8" height="91" fill="#18181b"/>
<rect x="1244.0" y="481" width="6.5" height="91" fill="#2f3034"/>
<rect x="1250.5" y="481" width="8" height="91" fill="#18181b"/>
<rect x="1258.5" y="481" width="6.5" height="91" fill="#2f3034"/>
<circle cx="1168.3" cy="535.8" r="7.5" fill="#0c0c0c"/><circle cx="1168.3" cy="535.8" r="5" fill="#c9a050"/><circle cx="1168.3" cy="535.8" r="2.2" fill="#b0502a"/>
<circle cx="1232.5" cy="537.5" r="7.5" fill="#0c0c0c"/><circle cx="1232.5" cy="537.5" r="5.2" fill="#cfa85a"/><circle cx="1232.5" cy="537.5" r="2.4" fill="#b0502a"/>
<rect x="1207" y="519" width="6.5" height="10" rx="1.5" fill="#a8a8a4"/>
<circle cx="1253.3" cy="555.8" r="8.5" fill="#08080a"/><circle cx="1253.3" cy="555.8" r="6" fill="none" stroke="#2c2c30" stroke-width="1.2"/>
<rect x="1266.5" y="481.5" width="140.5" height="90" fill="#1f1f22"/>
<circle cx="1284" cy="515" r="10.2" fill="#111"/><circle cx="1284" cy="515" r="8.4" fill="#e9e2d2"/><circle cx="1284" cy="515" r="4.6" fill="#101010"/><circle cx="1319" cy="515" r="10.2" fill="#111"/><circle cx="1319" cy="515" r="8.4" fill="#f3d400"/><circle cx="1319" cy="515" r="4.6" fill="#101010"/><circle cx="1353" cy="515" r="10.2" fill="#111"/><circle cx="1353" cy="515" r="8.4" fill="#f3d400"/><circle cx="1353" cy="515" r="4.6" fill="#101010"/><circle cx="1284" cy="549" r="10.2" fill="#111"/><circle cx="1284" cy="549" r="8.4" fill="#e32b1e"/><circle cx="1284" cy="549" r="4.6" fill="#101010"/><circle cx="1319" cy="549" r="10.2" fill="#111"/><circle cx="1319" cy="549" r="8.4" fill="#f3d400"/><circle cx="1319" cy="549" r="4.6" fill="#101010"/><circle cx="1353" cy="549" r="10.2" fill="#111"/><circle cx="1353" cy="549" r="8.4" fill="#f3d400"/><circle cx="1353" cy="549" r="4.6" fill="#101010"/>
<circle cx="1300" cy="527" r="1.8" fill="#0a0a0a"/><circle cx="1334" cy="524" r="1.8" fill="#0a0a0a"/>
<circle cx="1386" cy="544" r="15" fill="#6e6e68"/><circle cx="1386" cy="544" r="12.5" fill="#96968c"/><circle cx="1386" cy="544" r="9.5" fill="#3a3a36"/><circle cx="1386" cy="544" r="3" fill="#222"/>
<rect x="1410" y="481" width="38" height="82" fill="#29292d"/>
<circle cx="1421" cy="494" r="10.5" fill="#121214"/><path d="M1416,500 l8,0 l4,22 h-14z" fill="#18181b"/>
<rect x="1412" y="547" width="26.5" height="11.5" fill="#09090a"/>
</g>
<g id="outline1" fill="none" stroke="#111" stroke-width="1.8" stroke-linejoin="round">
<path d="M166,676.5 L670,676.5 L687.5,715 L687.5,831 Q687.5,834.5 684,834.5 L151.5,834.5 Q148,834.5 148,831 L148,713 Z" fill="#fefefe" stroke-width="2.4"/>
<!-- upper connector -->
<path d="M190,714 L274,714 L274,755 L190,755 L190,741 L176.5,741 L176.5,725 L190,725 Z" stroke-width="1.4"/>
<path d="M172,746.5 L188,746.5 L188,755" stroke-width="1.4"/>
<path d="M190,762 L274,762 L274,798 L190,798 L190,795 L178,795 L178,777 L188,777 L188,762 Z" stroke-width="1.4"/>
<path d="M172,777 L188,777" stroke-width="1.4"/>
<g stroke-width="1.4" stroke-dasharray="10 6">
<path d="M203,723 V750 M223,723 V750 M243.5,723 V750 M263.5,723 V750"/>
<path d="M203,764 V791 M223,764 V791 M243.5,764 V791 M263.5,764 V791"/>
</g>
<!-- fuse -->
<rect x="280" y="729" width="21.5" height="73" stroke-width="1.4"/>
<rect x="283" y="733" width="16" height="66" rx="2" stroke-width="1.4"/>
<!-- vents -->
<g stroke-width="1.5">
<rect x="303" y="699" width="11.5" height="109" rx="5"/>
<rect x="322" y="699" width="12" height="109" rx="5"/>
<rect x="342" y="699" width="12" height="109" rx="5"/>
<rect x="361.5" y="699" width="12" height="46" rx="5"/>
<rect x="361.5" y="760" width="12" height="48" rx="5"/>
<rect x="381" y="699" width="12" height="45" rx="5"/>
<rect x="381" y="761" width="12" height="47" rx="5"/>
<rect x="399" y="699" width="12" height="76.5" rx="5"/>
<rect x="419" y="699" width="11" height="109" rx="5"/>
</g>
<!-- screws -->
<g stroke-width="1.5">
<circle cx="233" cy="700.5" r="7" fill="#fff"/><path d="M230,697.5 l6,6 m0,-6 l-6,6" stroke-width="1.6"/>
<circle cx="312.5" cy="758" r="7" fill="#fff"/><path d="M309.5,755 l6,6 m0,-6 l-6,6" stroke-width="1.6"/>
<circle cx="387" cy="752.5" r="7" fill="#fff"/><path d="M384,749.5 l6,6 m0,-6 l-6,6" stroke-width="1.6"/>
<circle cx="408.6" cy="684.6" r="7" fill="#fff"/>
<circle cx="405" cy="790" r="10.5" fill="#fff" stroke-width="2"/><circle cx="405" cy="790" r="7.5"/>
</g>
<!-- RCA block -->
<rect x="430" y="696" width="177.5" height="113" rx="2" stroke-width="1.6" fill="#fff"/>
<g stroke-width="1.5">
<circle cx="455" cy="736" r="17.5"/><circle cx="455" cy="736" r="15"/>
<circle cx="495" cy="736" r="17.5"/><circle cx="495" cy="736" r="15"/>
<circle cx="539" cy="736" r="17.5"/><circle cx="539" cy="736" r="15"/>
<circle cx="455" cy="777.5" r="17.5"/><circle cx="455" cy="777.5" r="15"/>
<circle cx="495" cy="777.5" r="17.5"/><circle cx="495" cy="777.5" r="15"/>
<circle cx="539" cy="777.5" r="17.5"/><circle cx="539" cy="777.5" r="15"/>
<circle cx="583" cy="774" r="19.5"/><circle cx="583" cy="774" r="6"/>
</g>
<!-- antenna housing -->
<path d="M614,748 V801 H665 V748" stroke-width="1.6"/>
<circle cx="638.5" cy="737.5" r="27" fill="#fff" stroke-width="1.6"/>
<circle cx="638.5" cy="737.5" r="14.5" stroke-width="1.5"/><circle cx="638.5" cy="737.5" r="12" stroke-width="1.5"/>
<!-- coloured boxes -->
<rect x="169.5" y="712" width="107.5" height="44" stroke="#0c0fd2" stroke-width="4"/>
<rect x="169.5" y="760" width="107.5" height="41" stroke="#e60f12" stroke-width="4"/>
<path d="M168,737.5 H48.3 V1353 H86" stroke="#0c0fd2" stroke-width="4" stroke-linejoin="miter"/>
<path d="M168,779.5 H69.5 V1043.5 H86" stroke="#e60f12" stroke-width="4" stroke-linejoin="miter"/>
</g>

<g id="wiresB">
<path d="M86.5,988.7 H168.5 Q170,988.7 170,990.2 V1096.5 Q170,1098 168.5,1098 H96 V1106 H170 V1112.4 H129.3 V1116.7 L122,1112.4 H85.3 V990.2 Q85.3,988.7 86.5,988.7 Z" fill="#231815"/>
<text x="125" y="981.3" font-size="25" fill="#111" textLength="12.5" lengthAdjust="spacingAndGlyphs">B</text>
<g fill="none" stroke-width="4" stroke-linejoin="miter">
<path d="M170,993.3 H193.5 V939 H437.5" stroke="#e60012"/>
<path d="M170,1009.5 H210.3 V965.8 H437.5" stroke="#0b0b0b"/>
<path d="M170,1024 H226.5 V991.3 H437.5" stroke="#171c8f"/>
<path d="M170,1039 H241.6 V1019 H437.5" stroke="#2fa84f"/>
<path d="M170,1050.3 H241.6 V1069.8 H437.5" stroke="#a5574f"/>
<path d="M170,1065.3 H226.5 V1096.7 H437.5" stroke="#ffe800"/>
<path d="M170,1079.6 H210.5 V1121.5 H437.5" stroke="#f08a1c"/>
<path d="M170,1094.5 H194.3 V1148.5 H437.5" stroke="#f4b6c8" stroke-width="3.5"/>
</g>
<g font-size="19" fill="#151515" stroke="#151515" stroke-width="0.3">
<text x="319" y="935" fill="#555" stroke="#555" textLength="32" lengthAdjust="spacingAndGlyphs">Red</text>
<text x="319" y="961.5" textLength="44" lengthAdjust="spacingAndGlyphs">Black</text>
<text x="319" y="986.5" textLength="37" lengthAdjust="spacingAndGlyphs">Blue</text>
<text x="319" y="1013.5" textLength="50" lengthAdjust="spacingAndGlyphs">Green</text>
<text x="318" y="1060" textLength="53" lengthAdjust="spacingAndGlyphs">Brown</text>
<text x="319" y="1091.5" textLength="54" lengthAdjust="spacingAndGlyphs">Yellow</text>
<text x="317" y="1115" textLength="63" lengthAdjust="spacingAndGlyphs">Orange</text>
<text x="319" y="1144" textLength="36" lengthAdjust="spacingAndGlyphs">Pink</text>
</g>
<g font-size="17" fill="#151515" stroke="#151515" stroke-width="0.3">
<text x="447" y="945" textLength="214" lengthAdjust="spacingAndGlyphs">ACC(Ignition Switch +12V)</text>
<text x="446" y="972.5" textLength="168" lengthAdjust="spacingAndGlyphs">GND(Ground wire B-)</text>
<text x="446" y="998.5" font-weight="bold" textLength="129" lengthAdjust="spacingAndGlyphs">12V Control line</text>
<text x="446" y="1025" textLength="204" lengthAdjust="spacingAndGlyphs">ILL(Headlight control line)</text>
<text x="447" y="1077.5" textLength="223" lengthAdjust="spacingAndGlyphs">KEY(Steering wheel controls)</text>
<text x="446" y="1102.5" textLength="188" lengthAdjust="spacingAndGlyphs">B+(Power Supply +12V)</text>
<text x="446" y="1127.5" textLength="169" lengthAdjust="spacingAndGlyphs">PARKING(no connect)</text>
<text x="446" y="1156.5" textLength="68" lengthAdjust="spacingAndGlyphs">REVERSE</text>
</g>
<g fill="none" stroke="#e23a3a" stroke-width="1.4"><path d="M633.3,965.8 H727.5 L736.7,975 V1100 L716.7,1111.7"/><path d="M656.7,993 L691.7,999.2"/><path d="M679.2,1072.5 H704.2 L715.8,1058.3 V1040.8"/><path d="M637.5,1096.7 H672.5 L674.2,1101"/><path d="M532.5,1150 H596.7"/></g>
<defs><linearGradient id="wipG" x1="0" y1="0" x2="0" y2="1"><stop offset="0" stop-color="#93a4ad"/><stop offset="0.55" stop-color="#c9d2d6"/><stop offset="0.75" stop-color="#8fa3aa"/><stop offset="0.88" stop-color="#2f4d54"/><stop offset="1" stop-color="#7f969c"/></linearGradient><clipPath id="wipC"><rect x="668.3" y="980.8" width="55" height="26"/></clipPath></defs>
<rect x="668.3" y="980.8" width="55" height="26" fill="url(#wipG)"/><g clip-path="url(#wipC)"><path d="M668,1004 Q690,996 724,999 L724,1003 Q692,1000 668,1007Z" fill="#26444b"/><path d="M677,982 L692,998 L700,1000" stroke="#5a6a70" stroke-width="1" fill="none"/><path d="M668,996 L692,999" stroke="#e8ecee" stroke-width="1.2"/></g>
<path d="M656.7,993 L691.7,999.2" stroke="#e23a3a" stroke-width="1.4"/>
<circle cx="700.8" cy="1038.3" r="22.3" fill="#f4f4f4" stroke="#0d0d0d" stroke-width="4.2"/>
<path d="M681,1034 Q700,1024 721,1034 Q722,1040 716,1046 L708,1050 L704,1058 H697.5 L693.5,1050 L686,1046 Q680,1040 681,1034Z" fill="#1d2b2c"/><path d="M681.5,1036 L694,1044 M720,1036 L707.5,1044 M696.5,1050 L694,1058.5 M705,1050 L707.5,1058.5" stroke="#c9cfd1" stroke-width="1.6" fill="none"/>
<path d="M704.2,1072.5 L715.8,1058.3 V1040.8" stroke="#e23a3a" stroke-width="1.4" fill="none"/>
<path d="M655,1112.5 L676,1102.5 L720,1114.2 L701.5,1127 Z" fill="#1d1e20"/>
<path d="M655,1112.5 L701.5,1127 L700,1168.3 L661.5,1138.5 L657.5,1136.5 Z" fill="#101113"/>
<path d="M701.5,1127 L720,1114.2 L718.3,1155 L700,1168.3 Z" fill="#1b1c1f"/>
<path d="M665.8,1114.2 L672,1111 L686,1115.5 L680,1119 Z" fill="#e4cf22"/><path d="M680,1119 L686,1115.5 L697.5,1119.5 L692,1123.5 Z" fill="#ececec"/>
<rect x="672.3" y="1099.5" width="4.2" height="5" fill="#d8242c"/><rect x="712.2" y="1112" width="4.5" height="4" fill="#2b4bd0"/>
<path d="M665,1131 l12,4.5 M666,1137 l26,10 M666.5,1142 l22,8.5" stroke="#8b8e92" stroke-width="1.5"/>
<circle cx="674.7" cy="1090.8" r="5.3" fill="#fff" stroke="#e23a3a" stroke-width="1.2"/><path d="M672,1090.8 h5.4 M674.7,1088.1 v5.4" stroke="#e23a3a" stroke-width="1.4"/>
<circle cx="712.5" cy="1104.2" r="5.3" fill="#fff" stroke="#e23a3a" stroke-width="1.2"/><path d="M710,1104.2 h5" stroke="#e23a3a" stroke-width="1.4"/>
<path d="M604,1166 Q602,1166 601.5,1169 L600,1183 Q600,1187 604,1187 L653,1186.7 Q657.5,1186.7 657,1183 L655.5,1169 Q655,1166 652,1166 Z" fill="#121214"/>
<g fill="#fdfdfd"><ellipse cx="606.5" cy="1176" rx="2.3" ry="4.2"/><ellipse cx="620" cy="1175" rx="4.6" ry="3" transform="rotate(35 620 1175)"/><ellipse cx="636.5" cy="1175" rx="4.6" ry="3" transform="rotate(-35 636.5 1175)"/><ellipse cx="651" cy="1176" rx="2.3" ry="4.2"/></g>
<rect x="610.8" y="1132.5" width="33.4" height="35" rx="4" fill="#141416"/>
<circle cx="628.3" cy="1150" r="13.3" fill="none" stroke="#e6e07a" stroke-width="2.6" stroke-dasharray="3.6 1.6"/>
<circle cx="628.3" cy="1150" r="10.3" fill="#0a0a0c"/><circle cx="628.3" cy="1150" r="6.5" fill="#1d1d21"/><circle cx="626.5" cy="1148" r="1.6" fill="#3c3c44"/>
</g>

<g id="wiresA">
<path d="M86.5,1294.8 H168.5 Q170.2,1294.8 170.2,1296.3 V1403.5 Q170.2,1405 168.5,1405 H96 V1412.8 H170.2 V1418.7 H129.7 V1424 L121.2,1418.7 H85.2 V1296.3 Q85.2,1294.8 86.5,1294.8 Z" fill="#231815"/>
<text x="121.5" y="1289.6" font-size="26.5" fill="#111" textLength="16.8" lengthAdjust="spacingAndGlyphs">A</text>
<g fill="none" stroke-width="4" stroke-linejoin="miter">
<path d="M170,1300 H194 V1246 H437.5" stroke="#2fa84f"/>
<path d="M170,1316 H210 V1272.5 H437.5" stroke="#0c2a14"/>
<path d="M170,1329 H226 V1297.5 H437.5" stroke="#e4e4e4" stroke-width="3.5"/>
<path d="M170,1346 H241 V1325 H437.5" stroke="#111" stroke-width="2.5"/>
<path d="M170,1357.5 H241.5 V1377.5 H437.5" stroke="#8c8c8c" stroke-width="3.5"/>
<path d="M170,1372.5 H226 V1404 H437.5" stroke="#111" stroke-width="3"/>
<path d="M170,1386 H210 V1428.5 H437.5" stroke="#171c8f"/>
<path d="M170,1401 H194 V1456.5 H437.5" stroke="#14164f"/>
</g>
<g font-size="19" fill="#151515" stroke="#151515" stroke-width="0.3">
<text x="319" y="1241" textLength="50" lengthAdjust="spacingAndGlyphs">Green</text>
<text x="319" y="1267.5" textLength="102" lengthAdjust="spacingAndGlyphs">Green/Black</text>
<text x="319" y="1292.5" textLength="50" lengthAdjust="spacingAndGlyphs">White</text>
<text x="319" y="1320" textLength="101" lengthAdjust="spacingAndGlyphs">White/Black</text>
<text x="319" y="1370" textLength="40" lengthAdjust="spacingAndGlyphs">Gray</text>
<text x="319" y="1397.5" textLength="90" lengthAdjust="spacingAndGlyphs">Gray/Black</text>
<text x="319" y="1422.5" textLength="54" lengthAdjust="spacingAndGlyphs">Purple</text>
<text x="319" y="1449" textLength="105" lengthAdjust="spacingAndGlyphs">Purple/Black</text>
</g>
<g font-size="18" fill="#151515" stroke="#151515" stroke-width="0.3">
<text x="446" y="1252.5" textLength="159" lengthAdjust="spacingAndGlyphs">Rear Left Speaker+</text>
<text x="446" y="1279" textLength="152" lengthAdjust="spacingAndGlyphs">Rear Left Speaker-</text>
<text x="446" y="1305" textLength="165" lengthAdjust="spacingAndGlyphs">Front Left Speaker+</text>
<text x="446" y="1331" textLength="158" lengthAdjust="spacingAndGlyphs">Front Left Speaker-</text>
<text x="447" y="1385" textLength="178" lengthAdjust="spacingAndGlyphs">Front Right Speaker+</text>
<text x="447" y="1410" textLength="172" lengthAdjust="spacingAndGlyphs">Front Right Speaker-</text>
<text x="447" y="1436" textLength="172" lengthAdjust="spacingAndGlyphs">Rear Right Speaker+</text>
<text x="447" y="1461.5" textLength="165" lengthAdjust="spacingAndGlyphs">Rear Right Speaker-</text>
</g>
<path d="M617.5,1244.6000000000001 H647.5 L645.0,1242.4 L653.5,1243.5 L680,1246.2 V1247.2 L653.5,1249.9 L645.0,1251.0 L647.5,1248.8 H617.5 Q615,1248.8 615,1246.7 Q615,1244.6000000000001 617.5,1244.6000000000001 Z" fill="#fde4e4" stroke="#e5262c" stroke-width="1.9" stroke-linejoin="round"/>
<path d="M617.5,1273.4 H647.5 L645.0,1271.2 L653.5,1272.3 L680,1275.0 V1276.0 L653.5,1278.7 L645.0,1279.8 L647.5,1277.6 H617.5 Q615,1277.6 615,1275.5 Q615,1273.4 617.5,1273.4 Z" fill="#cfcfcf" stroke="#141414" stroke-width="1.9" stroke-linejoin="round"/>
<path d="M620.0,1296.2 H650.0 L647.5,1294.0 L656.0,1295.1 L682.5,1297.8 V1298.8 L656.0,1301.5 L647.5,1302.6 L650.0,1300.3999999999999 H620.0 Q617.5,1300.3999999999999 617.5,1298.3 Q617.5,1296.2 620.0,1296.2 Z" fill="#fde4e4" stroke="#e5262c" stroke-width="1.9" stroke-linejoin="round"/>
<path d="M620.0,1325.4 H650.0 L647.5,1323.2 L656.0,1324.3 L682.5,1327.0 V1328.0 L656.0,1330.7 L647.5,1331.8 L650.0,1329.6 H620.0 Q617.5,1329.6 617.5,1327.5 Q617.5,1325.4 620.0,1325.4 Z" fill="#cfcfcf" stroke="#141414" stroke-width="1.9" stroke-linejoin="round"/>
<path d="M633.3,1376.6000000000001 H662.5 L660.0,1374.4 L668.5,1375.5 L694.2,1378.2 V1379.2 L668.5,1381.9 L660.0,1383.0 L662.5,1380.8 H633.3 Q630.8,1380.8 630.8,1378.7 Q630.8,1376.6000000000001 633.3,1376.6000000000001 Z" fill="#fde4e4" stroke="#e5262c" stroke-width="1.9" stroke-linejoin="round"/>
<path d="M633.3,1406.2 H662.5 L660.0,1404.0 L668.5,1405.1 L694.2,1407.8 V1408.8 L668.5,1411.5 L660.0,1412.6 L662.5,1410.3999999999999 H633.3 Q630.8,1410.3999999999999 630.8,1408.3 Q630.8,1406.2 633.3,1406.2 Z" fill="#cfcfcf" stroke="#141414" stroke-width="1.9" stroke-linejoin="round"/>
<path d="M629.2,1427.1000000000001 H659.2 L656.7,1424.9 L665.2,1426.0 L691.7,1428.7 V1429.7 L665.2,1432.4 L656.7,1433.5 L659.2,1431.3 H629.2 Q626.7,1431.3 626.7,1429.2 Q626.7,1427.1000000000001 629.2,1427.1000000000001 Z" fill="#fde4e4" stroke="#e5262c" stroke-width="1.9" stroke-linejoin="round"/>
<path d="M629.2,1456.2 H659.2 L656.7,1454.0 L665.2,1455.1 L691.7,1457.8 V1458.8 L665.2,1461.5 L656.7,1462.6 L659.2,1460.3999999999999 H629.2 Q626.7,1460.3999999999999 626.7,1458.3 Q626.7,1456.2 629.2,1456.2 Z" fill="#cfcfcf" stroke="#141414" stroke-width="1.9" stroke-linejoin="round"/>
<defs><radialGradient id="spkG" cx="0.6" cy="0.62" r="0.75"><stop offset="0" stop-color="#eef3f6"/><stop offset="0.15" stop-color="#c9d2d7"/><stop offset="0.45" stop-color="#7d8a91"/><stop offset="0.8" stop-color="#4e595f"/><stop offset="1" stop-color="#39434a"/></radialGradient>
<g id="spk"><ellipse cx="0" cy="0.8" rx="19.8" ry="15.8" fill="#30383d" transform="rotate(28)"/><ellipse cx="0" cy="0" rx="18.4" ry="14.2" fill="#929ea5" transform="rotate(28)"/><ellipse cx="0.5" cy="0" rx="15.2" ry="11.4" fill="url(#spkG)" transform="rotate(28)"/><circle cx="2.8" cy="2.8" r="3.2" fill="#f4f8fa"/><path d="M-1.5,-7 L3,1.5" stroke="#dfe6ea" stroke-width="2" opacity="0.65"/></g></defs>
<use href="#spk" transform="translate(706.7,1259.2)"/>
<use href="#spk" transform="translate(708.3,1313.3)"/>
<use href="#spk" transform="translate(715,1392.5)"/>
<use href="#spk" transform="translate(715,1445)"/>
</g>

<g id="right">
<!-- note text -->
<g font-size="25" font-weight="bold" fill="#111">
<text x="844.8" y="665" textLength="583" lengthAdjust="spacingAndGlyphs"><tspan fill="#e60012">Please note:</tspan> Except for the Rear Camera, other</text>
<text x="845" y="693.2" textLength="543.5" lengthAdjust="spacingAndGlyphs">accessories are not included in this product</text>
<text x="845" y="721.2" textLength="479" lengthAdjust="spacingAndGlyphs">and need to be purchased by yourself.</text>
</g>
<!-- outline 2 -->
<g fill="none" stroke="#111" stroke-width="1.6" stroke-linejoin="round">
<path d="M869.5,739 L1333.4,739 L1347.7,771.5 L1347.7,880.5 Q1347.7,884 1344.2,884 L858.2,884 Q854.7,884 854.7,880.5 L854.7,771.5 Z" fill="#fefefe" stroke-width="2.2"/>
<rect x="871.7" y="770.3" width="103.2" height="83.2" stroke-width="1.8"/>
<path d="M892.6,773.7 H972.6 V811 H892.6 V797.5 H880.8 V783.2 H892.6 Z" stroke-width="1.3"/>
<path d="M892.6,813.4 H972.6 V849.7 H892.6 V847.4 H882 V832.7 H890.3" stroke-width="1.3"/>
<rect x="871.7" y="802.7" width="18.6" height="27.3" stroke-width="1.3" fill="#fefefe"/>
<g stroke-width="1.3" stroke-dasharray="9 5.7">
<path d="M904.6,781.7 V806 M922.7,781.7 V806 M941.3,781.7 V806 M959.7,781.7 V806"/>
<path d="M904.6,819 V843 M922.7,819 V843 M941.3,819 V843 M959.7,819 V843"/>
</g>
<rect x="975.3" y="787.3" width="20" height="66.2" stroke-width="1.3"/>
<rect x="977.8" y="790.7" width="15.6" height="60" rx="1.5" stroke-width="1.3"/>
<g stroke-width="1.4">
<rect x="995.9" y="759.7" width="10.7" height="99" rx="4.5"/>
<rect x="1014" y="759.7" width="10.2" height="99" rx="4.5"/>
<rect x="1032.2" y="759.7" width="10.2" height="99" rx="4.5"/>
<rect x="1049.7" y="759.7" width="10.2" height="41.3" rx="4.5"/>
<rect x="1049.7" y="815.7" width="10.2" height="43" rx="4.5"/>
<rect x="1067.8" y="759.7" width="10.2" height="40" rx="4.5"/>
<rect x="1067.8" y="816.3" width="10.2" height="42.4" rx="4.5"/>
<rect x="1084.8" y="759.7" width="10.2" height="69.6" rx="4.5"/>
<rect x="1102.5" y="759.7" width="9.5" height="99" rx="4.5"/>
<circle cx="932" cy="760.8" r="6.5" fill="#fff"/><path d="M929.3,758.1 l5.4,5.4 m0,-5.4 l-5.4,5.4" stroke-width="1.5"/>
<circle cx="1004.8" cy="813.4" r="6.5" fill="#fff"/><path d="M1002.1,810.7 l5.4,5.4 m0,-5.4 l-5.4,5.4" stroke-width="1.5"/>
<circle cx="1072.8" cy="808.2" r="6.2" fill="#fff"/><path d="M1070.1,805.5 l5.4,5.4 m0,-5.4 l-5.4,5.4" stroke-width="1.5"/>
<circle cx="1092.7" cy="746" r="6.5" fill="#fff"/>
<circle cx="1088.9" cy="842.4" r="9.5" fill="#fff" stroke-width="2"/><circle cx="1088.9" cy="842.4" r="6.8"/>
</g>
<rect x="1111.3" y="756.7" width="163.2" height="102.7" rx="2" fill="#fff"/>
<g stroke-width="1.8">
<circle cx="1134.6" cy="793.4" r="15.2"/><circle cx="1134.6" cy="793.4" r="12.6"/>
<circle cx="1172" cy="793.4" r="15.2"/><circle cx="1172" cy="793.4" r="12.6"/>
<circle cx="1212" cy="793.4" r="15.2"/><circle cx="1212" cy="793.4" r="12.6"/>
<circle cx="1134.6" cy="831.3" r="15.2"/><circle cx="1134.6" cy="831.3" r="12.6"/>
<circle cx="1172" cy="831.3" r="15.2"/><circle cx="1172" cy="831.3" r="12.6"/>
<circle cx="1212" cy="831.3" r="15.2"/><circle cx="1212" cy="831.3" r="12.6"/>
<circle cx="1253" cy="828.5" r="17.8"/><circle cx="1252" cy="829" r="5.3"/>
</g>
<path d="M1279.4,806 V853 H1328.2 V806" stroke-width="1.5"/>
<circle cx="1304" cy="796" r="24.5" fill="#fff" stroke-width="1.5"/>
<circle cx="1304" cy="796" r="12.6" stroke-width="2.6"/>
</g>
<!-- rca center dots -->
<circle cx="1136" cy="793.6" r="4.2" fill="#111"/><circle cx="1172.5" cy="793.6" r="4" fill="#3c3a10"/><circle cx="1212" cy="794" r="4" fill="#2a2808"/>
<circle cx="1134.6" cy="831.5" r="4" fill="#d0101c"/><circle cx="1172.5" cy="832" r="4" fill="#151505"/><circle cx="1212" cy="831.5" r="4" fill="#151505"/>
<!-- dotted lines -->
<g fill="none" stroke-width="3.1" stroke-linecap="butt" stroke-dasharray="3 2.95">
<path d="M1048.7,893 V745.4 H1212.6 V892" stroke="#96931a"/>
<path d="M1172,793.4 H1152.5 V1238" stroke="#96931a"/>
<path d="M1152.5,832 H1170" stroke="#96931a"/>
<path d="M1131,793.4 H1100.2 V895" stroke="#111" stroke-width="3.5"/>
<path d="M1134.8,836 V895" stroke="#d0101c" stroke-width="3.5"/>
<path d="M1259,829.5 H1290" stroke="#111" stroke-width="3.2"/>
<path d="M1098.4,1050 V1076.4 H1077" stroke="#111" stroke-width="3.5"/>
<path d="M1135.2,1050 V1119.3 H1076" stroke="#a52a2a" stroke-width="3.3"/>
<path d="M1076,1096 H1192.3 V1282.8 H1416" stroke="#0a0ab4" stroke-width="3.7"/>
<path d="M1171.7,1016 V1322.4 H1464" stroke="#f2b0d8" stroke-width="3.3"/>
</g>
<path d="M1049.6,978 V989.2 H984" fill="none" stroke="#111" stroke-width="2.6"/>
<rect x="1046.6" y="894" width="6" height="25.600000000000023" rx="1.5" fill="#777"/><rect x="1048.6" y="894" width="2" height="25.600000000000023" fill="#ddd"/><rect x="1044.6" y="906.8" width="10" height="12.8" fill="#1a1a1a"/><path d="M1042.1,919.6 H1057.1 Q1059.1,919.6 1059.1,922.6 V951.6 Q1059.1,957.6 1055.35,959.6 H1043.85 Q1040.1,957.6 1040.1,951.6 V922.6 Q1040.1,919.6 1042.1,919.6 Z" fill="#f6d000"/><rect x="1045.05" y="959.6" width="9.1" height="19.199999999999932" fill="#7a6500"/><rect x="1043.85" y="960.2" width="11.5" height="3.2" rx="1.2" fill="#f6d000"/><rect x="1043.85" y="965.0" width="11.5" height="3.2" rx="1.2" fill="#f6d000"/><rect x="1043.85" y="969.8" width="11.5" height="3.2" rx="1.2" fill="#f6d000"/><rect x="1043.85" y="974.6" width="11.5" height="3.2" rx="1.2" fill="#f6d000"/>
<path d="M1098.4,955 V991" stroke="#111" stroke-width="2.4" fill="none"/>
<rect x="1095.4" y="896.4" width="6" height="11.200000000000045" rx="1.5" fill="#777"/><rect x="1097.4" y="896.4" width="2" height="11.200000000000045" fill="#ddd"/><rect x="1093.4" y="902.0" width="10" height="5.6" fill="#1a1a1a"/><path d="M1093.15,907.6 H1103.65 Q1105.65,907.6 1105.65,910.6 V929.2 Q1105.65,935.2 1103.15,937.2 H1093.65 Q1091.15,935.2 1091.15,929.2 V910.6 Q1091.15,907.6 1093.15,907.6 Z" fill="#d6d6d6"/><rect x="1094.8500000000001" y="937.2" width="7.1" height="18.399999999999977" fill="#6f6f6f"/><rect x="1093.65" y="937.8" width="9.5" height="3.0" rx="1.2" fill="#d6d6d6"/><rect x="1093.65" y="942.4" width="9.5" height="3.0" rx="1.2" fill="#d6d6d6"/><rect x="1093.65" y="947.0" width="9.5" height="3.0" rx="1.2" fill="#d6d6d6"/><rect x="1093.65" y="951.6" width="9.5" height="3.0" rx="1.2" fill="#d6d6d6"/>
<rect x="1094.8500000000001" y="990.8" width="7.1" height="18.40000000000009" fill="#6f6f6f"/><rect x="1093.65" y="991.4" width="9.5" height="3.0" rx="1.2" fill="#d6d6d6"/><rect x="1093.65" y="996.0" width="9.5" height="3.0" rx="1.2" fill="#d6d6d6"/><rect x="1093.65" y="1000.6" width="9.5" height="3.0" rx="1.2" fill="#d6d6d6"/><rect x="1093.65" y="1005.2" width="9.5" height="3.0" rx="1.2" fill="#d6d6d6"/><path d="M1093.65,1009.2 H1103.15 Q1105.65,1011.2 1105.65,1017.2 V1036.6 Q1105.65,1039.6 1103.65,1039.6 H1093.15 Q1091.15,1039.6 1091.15,1036.6 V1017.2 Q1091.15,1011.2 1093.65,1009.2 Z" fill="#d6d6d6"/><rect x="1093.4" y="1039.6" width="10" height="4.8" fill="#1a1a1a"/><rect x="1095.4" y="1044.0" width="6" height="4.4" rx="1.5" fill="#888"/>
<path d="M1134.4,954 V990" stroke="#111" stroke-width="2.4" fill="none"/>
<rect x="1131.4" y="896.4" width="6" height="9.600000000000023" rx="1.5" fill="#777"/><rect x="1133.4" y="896.4" width="2" height="9.600000000000023" fill="#ddd"/><rect x="1129.4" y="901.2" width="10" height="4.8" fill="#1a1a1a"/><path d="M1128.65,906 H1140.15 Q1142.15,906 1142.15,909 V927.6 Q1142.15,933.6 1139.65,935.6 H1129.15 Q1126.65,933.6 1126.65,927.6 V909 Q1126.65,906 1128.65,906 Z" fill="#e3101c"/><rect x="1130.3500000000001" y="935.6" width="8.1" height="18.399999999999977" fill="#7a0a10"/><rect x="1129.15" y="936.2" width="10.5" height="3.0" rx="1.2" fill="#e3101c"/><rect x="1129.15" y="940.8" width="10.5" height="3.0" rx="1.2" fill="#e3101c"/><rect x="1129.15" y="945.4" width="10.5" height="3.0" rx="1.2" fill="#e3101c"/><rect x="1129.15" y="950.0" width="10.5" height="3.0" rx="1.2" fill="#e3101c"/>
<rect x="1130.3500000000001" y="989.2" width="8.1" height="19.199999999999932" fill="#7a0a10"/><rect x="1129.15" y="989.8" width="10.5" height="3.2" rx="1.2" fill="#e3101c"/><rect x="1129.15" y="994.6" width="10.5" height="3.2" rx="1.2" fill="#e3101c"/><rect x="1129.15" y="999.4" width="10.5" height="3.2" rx="1.2" fill="#e3101c"/><rect x="1129.15" y="1004.2" width="10.5" height="3.2" rx="1.2" fill="#e3101c"/><path d="M1129.15,1008.4 H1139.65 Q1142.15,1010.4 1142.15,1016.4 V1035 Q1142.15,1038 1140.15,1038 H1128.65 Q1126.65,1038 1126.65,1035 V1016.4 Q1126.65,1010.4 1129.15,1008.4 Z" fill="#e3101c"/><rect x="1129.4" y="1038" width="10" height="5.3" fill="#1a1a1a"/><rect x="1131.4" y="1042.8" width="6" height="4.8" rx="1.5" fill="#888"/>
<path d="M1212.3,962 V1063" stroke="#111" stroke-width="2.6" fill="none"/>
<path d="M1172,1012.4 C1192,1008 1204,990 1211,966" stroke="#e60012" stroke-width="2.4" fill="none"/>
<path d="M1212.5,1060 C1216,1025 1250,1000 1290,999.2 H1421" stroke="#e60012" stroke-width="2.4" fill="none"/>
<path d="M1263.2,1060 C1263,1030 1268,1010 1276,999.5" stroke="#e60012" stroke-width="2.4" fill="none"/>
<path d="M1267.2,1060 C1268,1048 1278,1043.2 1294,1043.2 H1423" stroke="#111" stroke-width="2.6" fill="none"/>
<rect x="1209.5" y="893.2" width="6" height="20.799999999999955" rx="1.5" fill="#777"/><rect x="1211.5" y="893.2" width="2" height="20.799999999999955" fill="#ddd"/><rect x="1207.5" y="903.6" width="10" height="10.4" fill="#1a1a1a"/><path d="M1206.5,914 H1218.5 Q1220.5,914 1220.5,917 V938.8 Q1220.5,944.8 1217.5,946.8 H1207.5 Q1204.5,944.8 1204.5,938.8 V917 Q1204.5,914 1206.5,914 Z" fill="#f6d000"/><rect x="1208.7" y="946.8" width="7.6" height="16.0" fill="#7a6500"/><rect x="1207.5" y="947.4" width="10" height="2.4" rx="1.2" fill="#f6d000"/><rect x="1207.5" y="951.4" width="10" height="2.4" rx="1.2" fill="#f6d000"/><rect x="1207.5" y="955.4" width="10" height="2.4" rx="1.2" fill="#f6d000"/><rect x="1207.5" y="959.4" width="10" height="2.4" rx="1.2" fill="#f6d000"/>
<rect x="1208.5" y="1062.4" width="8.6" height="24.0" fill="#7a6500"/><rect x="1207.3" y="1063.0" width="11" height="4.4" rx="1.2" fill="#f6d000"/><rect x="1207.3" y="1069.0" width="11" height="4.4" rx="1.2" fill="#f6d000"/><rect x="1207.3" y="1075.0" width="11" height="4.4" rx="1.2" fill="#f6d000"/><rect x="1207.3" y="1081.0" width="11" height="4.4" rx="1.2" fill="#f6d000"/><path d="M1207.3,1086.4 H1218.3 Q1222.3,1088.4 1222.3,1094.4 V1117 Q1222.3,1120 1220.3,1120 H1205.3 Q1203.3,1120 1203.3,1117 V1094.4 Q1203.3,1088.4 1207.3,1086.4 Z" fill="#f6d000"/><rect x="1207.8" y="1120" width="10" height="11.9" fill="#1a1a1a"/><rect x="1209.8" y="1130.8" width="6" height="10.8" rx="1.5" fill="#888"/>
<rect x="1206.3" y="1142.8" width="13" height="11.5" rx="1.5" fill="#9a9a9a"/><rect x="1208" y="1142.8" width="3" height="11.5" fill="#e8e8e8"/>
<path d="M1205,1153.6 H1221 Q1223,1154 1223,1157 V1178 Q1222,1184 1218,1185 H1208 Q1204,1184 1203,1178 V1157 Q1203,1154 1205,1153.6Z" fill="#f6ac1c"/>
<rect x="1208.7" y="1184.8" width="8.6" height="16.799999999999955" fill="#6a5500"/><rect x="1207.5" y="1185.4" width="11" height="2.6" rx="1.2" fill="#f6c000"/><rect x="1207.5" y="1189.6" width="11" height="2.6" rx="1.2" fill="#f6c000"/><rect x="1207.5" y="1193.8" width="11" height="2.6" rx="1.2" fill="#f6c000"/><rect x="1207.5" y="1198.0" width="11" height="2.6" rx="1.2" fill="#f6c000"/>
<rect x="1256.5" y="1060" width="12.6" height="19.200000000000045" fill="#0a0a0a"/><rect x="1255.3" y="1060.6" width="15" height="3.2" rx="1.2" fill="#2c2c2c"/><rect x="1255.3" y="1065.4" width="15" height="3.2" rx="1.2" fill="#2c2c2c"/><rect x="1255.3" y="1070.2" width="15" height="3.2" rx="1.2" fill="#2c2c2c"/><rect x="1255.3" y="1075.0" width="15" height="3.2" rx="1.2" fill="#2c2c2c"/>
<path d="M1255.5,1079 H1270 Q1272.5,1082 1272.5,1088 V1112 Q1272,1120 1268,1120.5 H1257 Q1252.5,1120 1251.5,1112 V1088 Q1251.5,1082 1255.5,1079Z" fill="#3b3b3b"/>
<rect x="1256.4" y="1120" width="12" height="19.5" rx="1" fill="#a5a5a5"/><rect x="1258" y="1120" width="3" height="19.5" fill="#e0e0e0"/><rect x="1256.4" y="1120" width="12" height="3" fill="#555"/>
<path d="M1255,1145.2 H1268 Q1271,1146 1271,1150 V1180 Q1270,1188 1266,1189.6 H1257 Q1253,1188 1252,1180 V1150 Q1252,1146 1255,1145.2Z" fill="#f2706c"/>
<rect x="1257.2" y="1189.6" width="8.6" height="12.0" fill="#8a2020"/><rect x="1256.0" y="1190.2" width="11" height="2.4" rx="1.2" fill="#ea4a48"/><rect x="1256.0" y="1194.2" width="11" height="2.4" rx="1.2" fill="#ea4a48"/><rect x="1256.0" y="1198.2" width="11" height="2.4" rx="1.2" fill="#ea4a48"/>
<path d="M1213,1201 C1213,1222 1232,1226 1236,1242" stroke="#111" stroke-width="2.6" fill="none"/>
<path d="M1261.8,1201 C1262,1222 1240,1226 1236,1242" stroke="#111" stroke-width="2.6" fill="none"/>
<path d="M1236.3,1240 V1412" stroke="#111" stroke-width="3" fill="none"/>
<path d="M1230,1262 H1243 Q1245,1263 1245,1268 L1245.8,1300 L1244,1336 Q1243,1343 1241,1344 H1232.5 Q1230,1343 1229.5,1336 L1227.6,1300 L1228,1268 Q1228,1263 1230,1262Z" fill="#333"/>
<circle cx="1233" cy="1320.5" r="1.4" fill="#f4d8ea"/><circle cx="1239" cy="1320.5" r="1.4" fill="#f4d8ea"/><circle cx="1233" cy="1283" r="1.3" fill="#2a2a9a"/><circle cx="1239" cy="1283" r="1.3" fill="#2a2a9a"/>
<path d="M1151.5,1312 V1431.5 H1068 M1035,1431.5 H942.4 V1402" stroke="#111" stroke-width="2.6" fill="none" stroke-linejoin="miter"/>
<rect x="1148.5" y="1243" width="5.6" height="10" rx="1.5" fill="#777"/><rect x="1146.5" y="1251" width="9.6" height="9.5" fill="#1a1a1a"/>
<path d="M1146,1260 H1157 Q1160,1261 1160,1266 V1302 Q1159,1311 1155,1313 H1148 Q1144,1311 1143.5,1302 V1266 Q1143.5,1261 1146,1260Z" fill="#e9d600"/>
<path d="M1034,1431.5 Q1040,1424 1050,1423.5 Q1062,1424 1069,1431.5 Q1062,1440 1050,1440.5 Q1040,1440 1034,1431.5Z" fill="#161616"/><path d="M1066,1431.5 H1078" stroke="#c0392b" stroke-width="2"/>
<path d="M1339,829.5 H1396" stroke="#111" stroke-width="2.2" fill="none"/>
<rect x="1395.7" y="823.6" width="18.2" height="12" fill="#111"/>
<path d="M1413,829.6 C1440,830 1456,830 1468,818 C1482,804 1487,790 1484.5,776 C1481,756 1468,740 1442,731" stroke="#111" stroke-width="3.2" fill="none"/>
<path d="M1290,829.8 H1301" stroke="#222" stroke-width="2"/><rect x="1300.5" y="823" width="18.5" height="13.5" rx="2" fill="#8a7a3a"/><rect x="1302" y="825" width="15" height="3" fill="#d8c98a"/><rect x="1302" y="831" width="15" height="2.5" fill="#5a4e20"/><path d="M1318,824 H1332 L1339,827.5 V832 L1332,836 H1318Z" fill="#1c1c1c"/>
<path d="M1418.5,733 L1436,728 L1443,731.5 L1437,737.5 L1424,740 Z" fill="#1a1a1a"/><path d="M1427,731 L1436,714 L1440,715.5 L1436,731 Z" fill="#c8c8c8"/><path d="M1429,731 L1437,715" stroke="#333" stroke-width="1"/>
<path d="M1437.5,715.5 L1464.3,654.7" stroke="#111" stroke-width="1.6"/><path d="M1437.5,715.5 L1448,691.5" stroke="#b01020" stroke-width="2.6"/>
<text x="1355.4" y="808.2" font-size="18" fill="#111" textLength="85.6" lengthAdjust="spacingAndGlyphs">Radio ANT</text>
<defs><g id="camG"><path d="M891.2,944 Q893,940 900,938 L925,927 Q934,921 938.8,916 Q945,910 952.8,909 L973,908.5 Q977,909 975,912 L971,916.5 Q965,920 955,921 Q950,922 947,926 L933.5,936 Q931,941 929,944.5 Q927,948 921,948.5 L900,948.5 Q890,948 891.2,944 Z" fill="#161616"/><path d="M903,943 q6,-3 12,-2.5 q-5,3 -12,2.5z M921,934 q7,-4 13,-4.5 q-4,4 -13,4.5z M955,912.5 q6,-2 12,-1.5 q-5,2.5 -12,1.5z" fill="#fdfdfd"/><path d="M918,944 L929,941 L934,965 L926,969 Q922,968 921,962 Z" fill="#111"/><path d="M948,922 L957,918 L964,930 L957,936 Z" fill="#1a1a1a"/><circle cx="922" cy="949" r="2.2" fill="#9a9a8a"/><circle cx="928" cy="946.5" r="2" fill="#8a8a7a"/><circle cx="959" cy="924" r="2" fill="#9a9a6a"/><circle cx="953" cy="932" r="1.6" fill="#aaa"/><path d="M931.8,950.3 L962.6,932.8 Q966,931 970,930.6 L990.6,929.3 L958.4,947.5 Z" fill="#3b3b3d"/><path d="M931.8,950.3 Q930.5,951.5 931,953.5 L942,987.5 Q943,990.5 946,991 L972.4,991.6 L957,948.2 Z" fill="#2b2b2d"/><path d="M957,948.2 L989,931 Q992.5,929.5 993.5,933 L1006,968 Q1007,971 1004,973 L975.5,990.5 Q972.4,992.5 971,989 Z" fill="#1a1a1c"/><path d="M957,948.2 L972.4,991.6" stroke="#454548" stroke-width="0.8" fill="none"/><circle cx="997.3" cy="961.3" r="4.6" fill="#e8e8e8" opacity="0.4"/><circle cx="997.3" cy="961.3" r="3.1" fill="#ffffff"/><circle cx="996.2" cy="970.4" r="4.6" fill="#e8e8e8" opacity="0.4"/><circle cx="996.2" cy="970.4" r="3.1" fill="#ffffff"/><circle cx="991.1" cy="977.1" r="4.6" fill="#e8e8e8" opacity="0.4"/><circle cx="991.1" cy="977.1" r="3.1" fill="#ffffff"/><circle cx="983.6" cy="979.6" r="4.6" fill="#e8e8e8" opacity="0.4"/><circle cx="983.6" cy="979.6" r="3.1" fill="#ffffff"/><circle cx="975.6" cy="977.2" r="4.6" fill="#e8e8e8" opacity="0.4"/><circle cx="975.6" cy="977.2" r="3.1" fill="#ffffff"/><circle cx="969.2" cy="970.5" r="4.6" fill="#e8e8e8" opacity="0.4"/><circle cx="969.2" cy="970.5" r="3.1" fill="#ffffff"/><circle cx="966.3" cy="961.3" r="4.6" fill="#e8e8e8" opacity="0.4"/><circle cx="966.3" cy="961.3" r="3.1" fill="#ffffff"/><circle cx="967.4" cy="952.2" r="4.6" fill="#e8e8e8" opacity="0.4"/><circle cx="967.4" cy="952.2" r="3.1" fill="#ffffff"/><circle cx="972.5" cy="945.5" r="4.6" fill="#e8e8e8" opacity="0.4"/><circle cx="972.5" cy="945.5" r="3.1" fill="#ffffff"/><circle cx="980.0" cy="943.0" r="4.6" fill="#e8e8e8" opacity="0.4"/><circle cx="980.0" cy="943.0" r="3.1" fill="#ffffff"/><circle cx="988.0" cy="945.4" r="4.6" fill="#e8e8e8" opacity="0.4"/><circle cx="988.0" cy="945.4" r="3.1" fill="#ffffff"/><circle cx="994.4" cy="952.1" r="4.6" fill="#e8e8e8" opacity="0.4"/><circle cx="994.4" cy="952.1" r="3.1" fill="#ffffff"/><ellipse cx="982" cy="961.3" rx="10.8" ry="12.6" fill="#303033" transform="rotate(-18 982 961.3)"/><ellipse cx="982.3" cy="961" rx="7.6" ry="8.8" fill="#1b1b1e" transform="rotate(-18 982 961.3)"/><circle cx="982.3" cy="961.3" r="2.4" fill="none" stroke="#8a8a8e" stroke-width="0.8"/></g></defs>
<use href="#camG"/>
<use href="#camG" transform="translate(292.5,501)"/>
<path d="M1235.6,1400 V1447" stroke="#111" stroke-width="2.8"/>
<g font-size="22.5" fill="#151515" stroke="#151515" stroke-width="0.55"><text x="829.6" y="953.8" textLength="56.5" lengthAdjust="spacingAndGlyphs">Front</text><text x="820.5" y="976.2" textLength="80.5" lengthAdjust="spacingAndGlyphs">Camera</text></g>
<defs><linearGradient id="ampG" x1="0" y1="0" x2="0" y2="1"><stop offset="0" stop-color="#232427"/><stop offset="0.2" stop-color="#35363b"/><stop offset="0.8" stop-color="#303136"/><stop offset="1" stop-color="#1c1d20"/></linearGradient>
<linearGradient id="ventG" x1="0" y1="0" x2="0" y2="1"><stop offset="0" stop-color="#0a0a0b"/><stop offset="0.3" stop-color="#333436"/><stop offset="0.45" stop-color="#0e0e10"/><stop offset="0.62" stop-color="#2a2b2d"/><stop offset="0.8" stop-color="#0c0c0e"/><stop offset="1" stop-color="#1a1a1c"/></linearGradient></defs>
<path d="M812.6,1150 H920.8 V1160 Q920,1166.3 914,1166.3 H818 Q812.6,1166.3 812.6,1160 Z" fill="#18181a"/><rect x="822" y="1156" width="88" height="4" rx="2" fill="#3a3a3d"/>
<path d="M830,1014.5 H1075.5 V1153.7 H812 Q806.8,1153.7 806.8,1148 V1038 Q807,1016 830,1014.5 Z" fill="url(#ampG)"/>
<rect x="816.4" y="1032.9" width="31" height="104.4" rx="5" fill="url(#ventG)"/>
<g stroke="#4a4b4e" stroke-width="1.6" opacity="0.8"><path d="M820,1062 L846,1050 M821,1071 L846,1060 M824,1089 L846,1080 M822,1098 L846,1089 M823,1112 L846,1101 M825,1126 L846,1117 M822,1047 L846,1040"/></g>
<rect x="818" y="1050" width="4" height="4" fill="#555"/><rect x="818" y="1072" width="4" height="4" fill="#555"/><rect x="818" y="1094" width="4" height="4" fill="#555"/><rect x="818" y="1116" width="4" height="4" fill="#555"/>
<rect x="942.1" y="1029" width="41.6" height="8.7" rx="4.3" fill="#070708"/><rect x="1009.8" y="1029" width="43.5" height="8.7" rx="4.3" fill="#070708"/>
<circle cx="894.7" cy="1045.4" r="9" fill="#141416"/><circle cx="894.7" cy="1045.4" r="6.5" fill="#3c3d40"/><path d="M890.7,1042.4 l8,6 M897.7,1041.4 l-6,8" stroke="#161618" stroke-width="2.4"/>
<circle cx="871.5" cy="1137.3" r="9" fill="#141416"/><circle cx="871.5" cy="1137.3" r="6.5" fill="#3c3d40"/><path d="M867.5,1134.3 l8,6 M874.5,1133.3 l-6,8" stroke="#161618" stroke-width="2.4"/>
<g font-weight="bold" fill="#fff" font-size="7"><text x="901.5" y="1066.7" textLength="26" lengthAdjust="spacingAndGlyphs">POWER</text><text x="882.2" y="1081.2" textLength="45.4" lengthAdjust="spacingAndGlyphs">PROTECTION</text></g>
<circle cx="938.8" cy="1064.8" r="4" fill="#2ec27e"/><circle cx="938.8" cy="1064.8" r="2" fill="#8ff0c0"/><circle cx="938.8" cy="1078.3" r="4" fill="#e0323c"/><circle cx="938" cy="1077.5" r="1.8" fill="#ff8a8a"/>
<rect x="959.5" y="1057" width="41.5" height="16.5" rx="2" fill="#d9d9d9"/><rect x="962.5" y="1060" width="35.5" height="7" fill="#f3f3f3"/><path d="M968,1060 v7 M975,1060 v7 M982,1060 v7 M989,1060 v7" stroke="#bdbdbd" stroke-width="1"/>
<g font-weight="bold" fill="#fff" font-size="9.5"><text x="958.5" y="1093">L</text><text x="979" y="1093">I</text><text x="996" y="1093">R</text></g><path d="M977.5,1096 h6 l-3,3.5z" fill="#fff"/>
<circle cx="953.7" cy="1100.5" r="4.6" fill="#f4f4f4"/><circle cx="953.7" cy="1100.5" r="1.9" fill="#222"/>
<circle cx="969.8" cy="1100.5" r="4.6" fill="#f4f4f4"/><circle cx="969.8" cy="1100.5" r="1.9" fill="#222"/>
<circle cx="991" cy="1100.5" r="4.6" fill="#f4f4f4"/><circle cx="991" cy="1100.5" r="1.9" fill="#222"/>
<circle cx="1006.5" cy="1100.5" r="4.6" fill="#f4f4f4"/><circle cx="1006.5" cy="1100.5" r="1.9" fill="#222"/>
<text x="953.7" y="1131.5" font-size="8" font-weight="bold" fill="#fff" textLength="51.3" lengthAdjust="spacingAndGlyphs">HIGH LEVEL</text>
<rect x="942" y="1138.2" width="116" height="1.3" fill="#d8d8d8"/>
<text x="979.8" y="1149.8" font-size="10" font-weight="bold" fill="#fff" textLength="41.6" lengthAdjust="spacingAndGlyphs">INPUTS</text>
<rect x="1025.3" y="1057" width="38.6" height="38.7" fill="none" stroke="#b82420" stroke-width="2"/><rect x="1025.3" y="1099.6" width="38.6" height="40.6" fill="none" stroke="#b82420" stroke-width="2"/>
<text x="1036" y="1056" font-size="6" font-weight="bold" fill="#fff" textLength="16" lengthAdjust="spacingAndGlyphs">LEFT</text><text x="1034" y="1135.5" font-size="6" font-weight="bold" fill="#fff" textLength="21" lengthAdjust="spacingAndGlyphs">RIGHT</text>
<circle cx="1044.6" cy="1075.4" r="13" fill="#0c0c0d"/><circle cx="1044.6" cy="1075.4" r="11.3" fill="#f4f4f4"/><circle cx="1044.6" cy="1075.4" r="5.6" fill="#151515"/>
<circle cx="1044.6" cy="1114" r="13" fill="#0c0c0d"/><circle cx="1044.6" cy="1114" r="11.3" fill="#f1efec"/><circle cx="1044.6" cy="1114" r="8.4" fill="#d8402c"/><circle cx="1044.6" cy="1114" r="4.6" fill="#1a0a08"/>
<circle cx="1067.5" cy="1093" r="5" fill="#0a0a0a"/><rect x="1047" y="1143" width="5" height="8" rx="2" fill="#0c0c0c"/>
<g font-size="22" font-weight="bold" fill="#151515"><text x="848.8" y="1193.2" textLength="91" lengthAdjust="spacingAndGlyphs">External</text><text x="848.8" y="1214.8" textLength="240" lengthAdjust="spacingAndGlyphs">Amplifier/Subwoofer</text></g>
<defs><linearGradient id="monG" x1="0" y1="0" x2="1" y2="0"><stop offset="0" stop-color="#222224"/><stop offset="0.09" stop-color="#3e3e41"/><stop offset="0.2" stop-color="#29292b"/><stop offset="0.8" stop-color="#29292b"/><stop offset="0.91" stop-color="#3e3e41"/><stop offset="1" stop-color="#222224"/></linearGradient>
<linearGradient id="postG" x1="0" y1="0" x2="1" y2="0"><stop offset="0" stop-color="#8a8a8a"/><stop offset="0.4" stop-color="#e8e8e8"/><stop offset="1" stop-color="#707070"/></linearGradient>
<linearGradient id="scrG" x1="0" y1="0" x2="0" y2="1"><stop offset="0" stop-color="#f4f5f6"/><stop offset="0.55" stop-color="#d6d8db"/><stop offset="0.8" stop-color="#b9bcc0"/><stop offset="1" stop-color="#e9eaec"/></linearGradient>
<linearGradient id="carG" x1="0" y1="0" x2="0" y2="1"><stop offset="0" stop-color="#d9dbde"/><stop offset="0.5" stop-color="#aeb1b6"/><stop offset="1" stop-color="#7b7e84"/></linearGradient></defs>
<rect x="940" y="1361" width="8.3" height="40" fill="url(#postG)"/><rect x="1041.7" y="1361" width="9" height="40.7" fill="url(#postG)"/>
<path d="M915,1235 H1074 Q1086,1236 1090,1250 Q1099,1285 1099,1305 Q1099,1335 1094,1355 Q1091,1365 1080,1365.5 H905 Q894,1365 891.5,1355 Q886.5,1335 886.7,1305 Q887,1280 896,1250 Q900,1236 915,1235 Z" fill="url(#monG)"/>
<path d="M925,1242 H1062 Q1072,1243 1075,1255 Q1081,1290 1080,1320 Q1079,1345 1072,1358 H914 Q907,1345 906,1320 Q905,1290 911,1255 Q914,1243 925,1242Z" fill="#1d1d1f"/>
<rect x="975.8" y="1244.2" width="33.4" height="6.6" rx="1" fill="#6d6d70"/>
<path d="M928,1250.8 H1061 Q1064,1251 1064,1254 V1322 Q1064,1326.7 1060,1326.7 H929 Q925,1326.7 925,1322 V1254 Q925,1251 928,1250.8Z" fill="#101012"/>
<rect x="932.5" y="1260.8" width="120.8" height="56.7" fill="url(#scrG)"/>
<path d="M932.5,1292 H1053.3 V1306 H932.5Z" fill="#aeb2b7" opacity="0.55"/>
<ellipse cx="993" cy="1309" rx="50" ry="3.2" fill="#5b5e63" opacity="0.7"/>
<path d="M943.5,1296 Q944,1290.5 951,1288.5 L966,1285.5 Q978,1278 994,1277.2 Q1012,1276.8 1024,1282.5 L1036,1287 Q1042,1290 1041.7,1297 L1041,1303.5 Q1036,1306 1030,1306 L978,1310 Q958,1310.5 947,1306.5 Q943,1303 943.5,1296 Z" fill="url(#carG)"/>
<path d="M968,1286 Q980,1279.8 993,1279.2 L990,1288.2 Q978,1288.5 968,1290 Z" fill="#2f3237"/><path d="M996,1279.2 Q1010,1279 1021,1284.2 L1025,1287.4 L994,1288 Z" fill="#383b40"/>
<path d="M945.5,1294.5 Q952,1291 962,1291.5 L964,1296 Q954,1297.5 946,1298.5 Z" fill="#1e2024"/><path d="M964,1292 q5,-1 9,0 l-1.5,4 q-4,0.5 -7,0.5z" fill="#f1f3f5"/>
<path d="M946.5,1301.5 H972 L971,1306.5 Q958,1307.5 948,1305 Z" fill="#2a2c30"/><rect x="952" y="1302.5" width="9" height="2.6" fill="#e6e8ea"/>
<circle cx="989.5" cy="1303.6" r="7.4" fill="#1d1e21"/><circle cx="989.5" cy="1303.6" r="5" fill="#c9cbce"/><circle cx="989.5" cy="1303.6" r="1.6" fill="#6b6e73"/><circle cx="1031" cy="1301" r="5.8" fill="#1d1e21"/><circle cx="1031" cy="1301" r="3.8" fill="#c9cbce"/>
<path d="M930,1328.3 H1055 Q1057,1329 1056.5,1332 Q1054,1338 1048,1338.5 H937 Q931,1338 928.5,1332 Q928,1329 930,1328.3Z" fill="#0b0b0c"/>
<path d="M980,1331.7 H1003.3 L999.5,1340.8 H984 Z" fill="#111" stroke="#c23a3a" stroke-width="1.1"/>
<g fill="#555"><circle cx="941" cy="1334" r="1"/><circle cx="956" cy="1334.5" r="1"/><circle cx="974" cy="1335" r="1"/><circle cx="1010" cy="1335" r="1"/><circle cx="1027" cy="1334.5" r="1"/><circle cx="1043" cy="1334" r="1.2"/></g>
<rect x="951.7" y="1346.7" width="85" height="11" rx="1.5" fill="#09090a"/><rect x="962" y="1349.5" width="4.5" height="4.5" fill="#b8a83a"/><rect x="1002.5" y="1349.3" width="10.8" height="4.5" fill="#d9d9d9"/><rect x="1019" y="1349.5" width="6" height="4" fill="#777"/>
<path d="M950,1360 H1037.5 L1035,1368.3 H953 Z" fill="#2f2f31"/>
<text x="953.2" y="1470" font-size="22" fill="#151515" textLength="81.6" lengthAdjust="spacingAndGlyphs">Monitor</text>
<defs><radialGradient id="tlG" cx="0.45" cy="0.55" r="0.6"><stop offset="0" stop-color="#cf1430"/><stop offset="0.6" stop-color="#a80e22"/><stop offset="1" stop-color="#5f0812"/></radialGradient></defs>
<path d="M1461.6,991.2 C1440,994 1421,1008 1418.4,1024 C1418,1034 1424,1041 1432,1043.2 C1450,1047.5 1478,1048 1492.8,1047.2 C1490,1040 1484,1030 1478,1020 C1472,1010 1466,998 1461.6,991.2 Z" fill="url(#tlG)"/>
<path d="M1429,1015 Q1436,1009 1450,1009.5 L1468,1010.5 L1475,1023 Q1460,1023 1445,1023.5 Q1434,1024.5 1429.5,1020 Z" fill="#d8d0cc"/><path d="M1433,1014 h38 l2,3 h-41z M1436,1019 h36 l2,3 h-39z" fill="#8a7a76"/><path d="M1440,1011 v12 M1452,1010.5 v12 M1463,1011 v11" stroke="#f3ecea" stroke-width="2"/>
<path d="M1424,1030 Q1440,1040 1488,1045" stroke="#e84a5a" stroke-width="1.5" fill="none" opacity="0.6"/>
<text x="1288" y="985.6" font-size="14.8" fill="#bf232d" stroke="#bf232d" stroke-width="0.4" textLength="192.8" lengthAdjust="spacingAndGlyphs">Red-Reversing Light +12V</text>
<text x="1307.2" y="1035.2" font-size="15.5" fill="#151515" stroke="#151515" stroke-width="0.45" textLength="105.6" lengthAdjust="spacingAndGlyphs">Black-Ground-</text>
<text x="1300" y="1082.4" font-size="25.5" fill="#151515" textLength="179.2" lengthAdjust="spacingAndGlyphs">Reversing Light</text>
<path d="M1379.2,1113.1 H1472.8 V1176.8 H1389.6 V1120.8 H1383.2 V1176.8 H1379.2 Z" fill="#231815"/><path d="M1379.2,1140.5 L1375.8,1144 L1379.2,1147.5Z" fill="#231815"/>
<text x="1361.4" y="1151.2" font-size="21" fill="#151515" textLength="11.5" lengthAdjust="spacingAndGlyphs">B</text>
<g fill="none" stroke-width="3"><path d="M1394.4,1176.8 V1195" stroke="#e60f1a"/><path d="M1405.6,1176.8 V1195" stroke="#111"/><path d="M1426.4,1176.8 V1195" stroke="#2fa84f"/><path d="M1434.4,1176.8 V1195" stroke="#a5574f"/><path d="M1444.8,1176.8 V1195" stroke="#ffe800" stroke-width="3.6"/><path d="M1455.5,1176.8 V1195" stroke="#f08a1c"/><path d="M1418,1176.8 V1283" stroke="#0c0fd2" stroke-width="3.2"/><path d="M1466.4,1176.8 V1322.5" stroke="#f2a8e4" stroke-width="3.2"/></g>
<g font-size="15" font-weight="bold" fill="#151515"><text x="1278.7" y="1258.8" textLength="93" lengthAdjust="spacingAndGlyphs">Connect 12V</text><text x="1278.7" y="1274.4" textLength="127.7" lengthAdjust="spacingAndGlyphs">control line(Blue)</text><text x="1289.3" y="1345.2" textLength="138" lengthAdjust="spacingAndGlyphs">Connect Reversing</text><text x="1289.3" y="1360.3" textLength="136.7" lengthAdjust="spacingAndGlyphs">Trigger Wire(Pink)</text></g>
</g>

</svg>
</body></html>
